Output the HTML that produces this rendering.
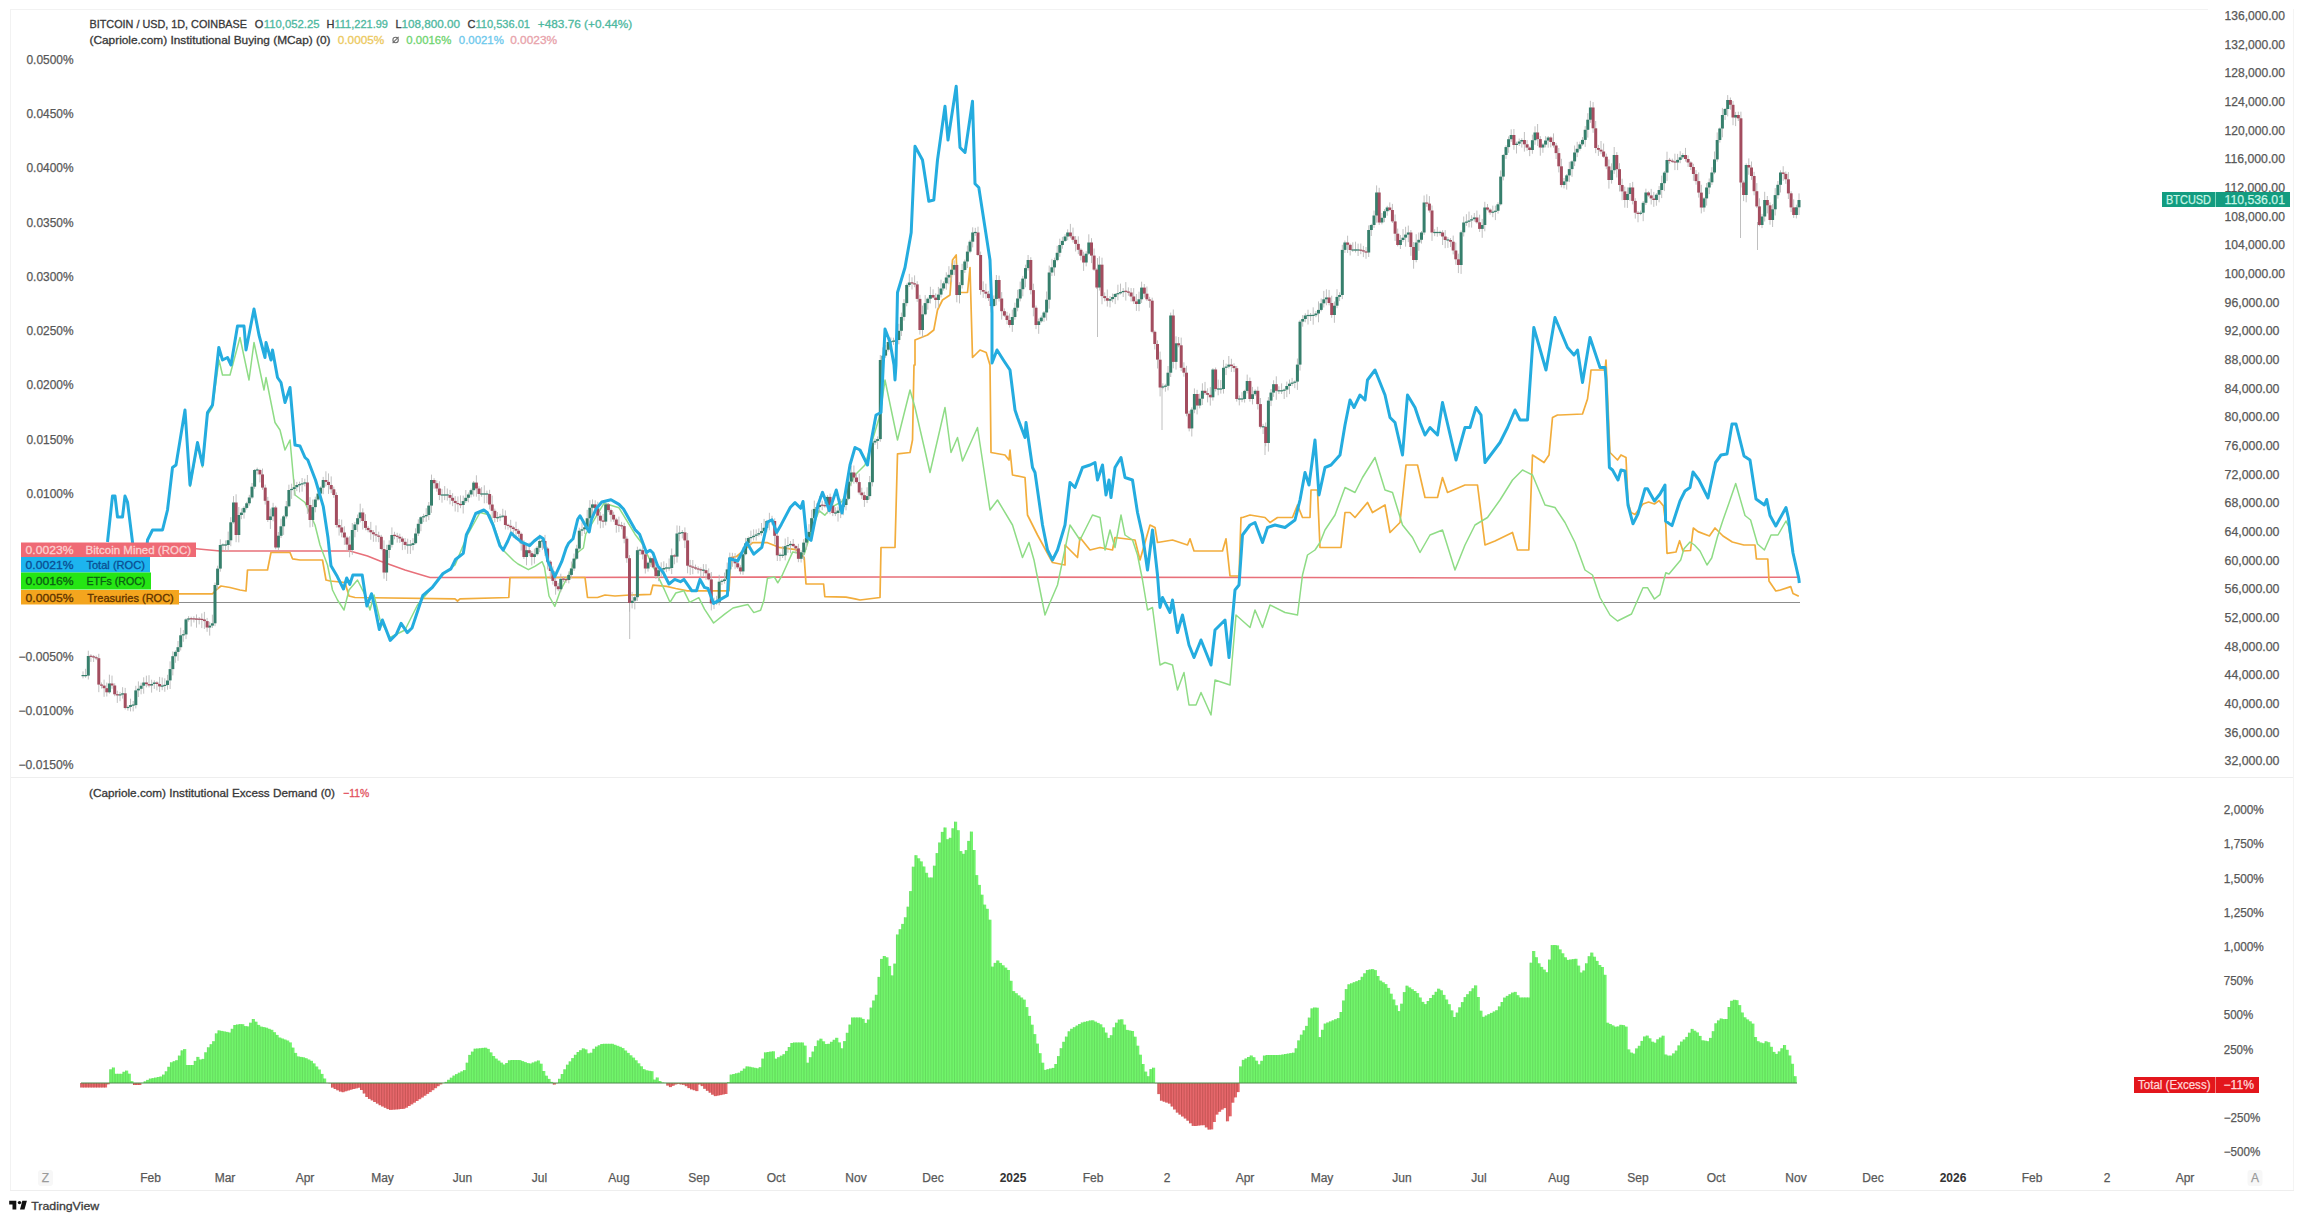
<!DOCTYPE html>
<html><head><meta charset="utf-8">
<style>
html,body{margin:0;padding:0;background:#fff;width:2304px;height:1222px;overflow:hidden}
svg{position:absolute;left:0;top:0;display:block}
text{font-family:"Liberation Sans", sans-serif;}
.ax{font-size:12px;fill:#585858;stroke:#585858;stroke-width:0.25px}
.axb{font-size:12px;fill:#333;font-weight:bold}
.lg{font-size:11px;fill:#383838;stroke:#383838;stroke-width:0.3px}
</style></head><body>
<svg width="2304" height="1222" viewBox="0 0 2304 1222">
<rect x="0" y="0" width="2304" height="1222" fill="#fff"/>
<line x1="10" y1="9.5" x2="2208" y2="9.5" stroke="#f2f2f2" stroke-width="1"/>
<line x1="10" y1="777.5" x2="2294" y2="777.5" stroke="#eeeeee" stroke-width="1"/>
<line x1="10" y1="1190.5" x2="2294" y2="1190.5" stroke="#eeeeee" stroke-width="1"/>
<line x1="10.5" y1="9" x2="10.5" y2="1190" stroke="#f2f2f2" stroke-width="1"/>
<line x1="2293.5" y1="9" x2="2293.5" y2="1190" stroke="#f4f4f4" stroke-width="1"/>
<g fill="#72f46c"><rect x="109.72" y="1069.3" width="2.64" height="13.7"/><rect x="112.36" y="1067.5" width="2.64" height="15.5"/><rect x="115.00" y="1073.8" width="2.64" height="9.2"/><rect x="117.64" y="1073.8" width="2.64" height="9.2"/><rect x="120.28" y="1073.8" width="2.64" height="9.2"/><rect x="122.92" y="1071.8" width="2.64" height="11.2"/><rect x="125.56" y="1070.6" width="2.64" height="12.4"/><rect x="128.20" y="1073.7" width="2.64" height="9.3"/><rect x="130.84" y="1081.2" width="2.64" height="1.8"/><rect x="141.40" y="1082.9" width="2.64" height="0.1"/><rect x="144.04" y="1081.4" width="2.64" height="1.6"/><rect x="146.68" y="1079.9" width="2.64" height="3.1"/><rect x="149.32" y="1078.6" width="2.64" height="4.4"/><rect x="151.96" y="1078.1" width="2.64" height="4.9"/><rect x="154.60" y="1077.6" width="2.64" height="5.4"/><rect x="157.24" y="1077.0" width="2.64" height="6.0"/><rect x="159.88" y="1076.5" width="2.64" height="6.5"/><rect x="162.52" y="1074.6" width="2.64" height="8.4"/><rect x="165.16" y="1071.3" width="2.64" height="11.7"/><rect x="167.80" y="1066.8" width="2.64" height="16.2"/><rect x="170.44" y="1062.3" width="2.64" height="20.7"/><rect x="173.08" y="1061.2" width="2.64" height="21.8"/><rect x="175.72" y="1060.2" width="2.64" height="22.8"/><rect x="178.36" y="1055.6" width="2.64" height="27.4"/><rect x="181.00" y="1050.4" width="2.64" height="32.6"/><rect x="183.64" y="1049.1" width="2.64" height="33.9"/><rect x="186.28" y="1065.0" width="2.64" height="18.0"/><rect x="188.92" y="1065.0" width="2.64" height="18.0"/><rect x="191.56" y="1065.0" width="2.64" height="18.0"/><rect x="194.20" y="1060.9" width="2.64" height="22.1"/><rect x="196.84" y="1056.9" width="2.64" height="26.1"/><rect x="199.48" y="1059.5" width="2.64" height="23.5"/><rect x="202.12" y="1058.9" width="2.64" height="24.1"/><rect x="204.76" y="1052.3" width="2.64" height="30.7"/><rect x="207.40" y="1047.3" width="2.64" height="35.7"/><rect x="210.04" y="1044.2" width="2.64" height="38.8"/><rect x="212.68" y="1041.2" width="2.64" height="41.8"/><rect x="215.32" y="1033.4" width="2.64" height="49.6"/><rect x="217.96" y="1030.4" width="2.64" height="52.6"/><rect x="220.60" y="1030.9" width="2.64" height="52.1"/><rect x="223.24" y="1031.4" width="2.64" height="51.6"/><rect x="225.88" y="1031.9" width="2.64" height="51.1"/><rect x="228.52" y="1032.5" width="2.64" height="50.5"/><rect x="231.16" y="1028.8" width="2.64" height="54.2"/><rect x="233.80" y="1025.0" width="2.64" height="58.0"/><rect x="236.44" y="1024.5" width="2.64" height="58.5"/><rect x="239.08" y="1024.1" width="2.64" height="58.9"/><rect x="241.72" y="1024.2" width="2.64" height="58.8"/><rect x="244.36" y="1026.1" width="2.64" height="56.9"/><rect x="247.00" y="1026.4" width="2.64" height="56.6"/><rect x="249.64" y="1022.7" width="2.64" height="60.3"/><rect x="252.28" y="1019.0" width="2.64" height="64.0"/><rect x="254.92" y="1021.7" width="2.64" height="61.3"/><rect x="257.56" y="1024.9" width="2.64" height="58.1"/><rect x="260.20" y="1026.6" width="2.64" height="56.4"/><rect x="262.84" y="1027.1" width="2.64" height="55.9"/><rect x="265.48" y="1027.7" width="2.64" height="55.3"/><rect x="268.12" y="1028.8" width="2.64" height="54.2"/><rect x="270.76" y="1029.8" width="2.64" height="53.2"/><rect x="273.40" y="1032.2" width="2.64" height="50.8"/><rect x="276.04" y="1034.9" width="2.64" height="48.1"/><rect x="278.68" y="1037.5" width="2.64" height="45.5"/><rect x="281.32" y="1038.5" width="2.64" height="44.5"/><rect x="283.96" y="1039.5" width="2.64" height="43.5"/><rect x="286.60" y="1040.5" width="2.64" height="42.5"/><rect x="289.24" y="1042.4" width="2.64" height="40.6"/><rect x="291.88" y="1047.6" width="2.64" height="35.4"/><rect x="294.52" y="1052.9" width="2.64" height="30.1"/><rect x="297.16" y="1056.4" width="2.64" height="26.6"/><rect x="299.80" y="1056.9" width="2.64" height="26.1"/><rect x="302.44" y="1057.3" width="2.64" height="25.7"/><rect x="305.08" y="1058.2" width="2.64" height="24.8"/><rect x="307.72" y="1059.5" width="2.64" height="23.5"/><rect x="310.36" y="1060.8" width="2.64" height="22.2"/><rect x="313.00" y="1063.4" width="2.64" height="19.6"/><rect x="315.64" y="1066.5" width="2.64" height="16.5"/><rect x="318.28" y="1069.5" width="2.64" height="13.5"/><rect x="320.92" y="1073.9" width="2.64" height="9.1"/><rect x="323.56" y="1078.5" width="2.64" height="4.5"/><rect x="445.00" y="1081.9" width="2.64" height="1.1"/><rect x="447.64" y="1079.8" width="2.64" height="3.2"/><rect x="450.28" y="1077.7" width="2.64" height="5.3"/><rect x="452.92" y="1075.6" width="2.64" height="7.4"/><rect x="455.56" y="1074.1" width="2.64" height="8.9"/><rect x="458.20" y="1072.7" width="2.64" height="10.3"/><rect x="460.84" y="1071.4" width="2.64" height="11.6"/><rect x="463.48" y="1070.1" width="2.64" height="12.9"/><rect x="466.12" y="1062.7" width="2.64" height="20.3"/><rect x="468.76" y="1054.9" width="2.64" height="28.1"/><rect x="471.40" y="1051.6" width="2.64" height="31.4"/><rect x="474.04" y="1048.7" width="2.64" height="34.3"/><rect x="476.68" y="1048.5" width="2.64" height="34.5"/><rect x="479.32" y="1048.2" width="2.64" height="34.8"/><rect x="481.96" y="1047.9" width="2.64" height="35.1"/><rect x="484.60" y="1047.7" width="2.64" height="35.3"/><rect x="487.24" y="1048.9" width="2.64" height="34.1"/><rect x="489.88" y="1052.4" width="2.64" height="30.6"/><rect x="492.52" y="1056.0" width="2.64" height="27.0"/><rect x="495.16" y="1058.6" width="2.64" height="24.4"/><rect x="497.80" y="1060.6" width="2.64" height="22.4"/><rect x="500.44" y="1062.6" width="2.64" height="20.4"/><rect x="503.08" y="1064.5" width="2.64" height="18.5"/><rect x="505.72" y="1063.0" width="2.64" height="20.0"/><rect x="508.36" y="1060.3" width="2.64" height="22.7"/><rect x="511.00" y="1060.0" width="2.64" height="23.0"/><rect x="513.64" y="1060.0" width="2.64" height="23.0"/><rect x="516.28" y="1060.0" width="2.64" height="23.0"/><rect x="518.92" y="1060.1" width="2.64" height="22.9"/><rect x="521.56" y="1061.1" width="2.64" height="21.9"/><rect x="524.20" y="1062.1" width="2.64" height="20.9"/><rect x="526.84" y="1063.1" width="2.64" height="19.9"/><rect x="529.48" y="1063.5" width="2.64" height="19.5"/><rect x="532.12" y="1062.5" width="2.64" height="20.5"/><rect x="534.76" y="1061.5" width="2.64" height="21.5"/><rect x="537.40" y="1060.5" width="2.64" height="22.5"/><rect x="540.04" y="1063.7" width="2.64" height="19.3"/><rect x="542.68" y="1071.0" width="2.64" height="12.0"/><rect x="545.32" y="1075.7" width="2.64" height="7.3"/><rect x="547.96" y="1078.9" width="2.64" height="4.1"/><rect x="550.60" y="1081.9" width="2.64" height="1.1"/><rect x="558.52" y="1078.8" width="2.64" height="4.2"/><rect x="561.16" y="1074.0" width="2.64" height="9.0"/><rect x="563.80" y="1069.3" width="2.64" height="13.7"/><rect x="566.44" y="1064.7" width="2.64" height="18.3"/><rect x="569.08" y="1061.4" width="2.64" height="21.6"/><rect x="571.72" y="1058.1" width="2.64" height="24.9"/><rect x="574.36" y="1054.8" width="2.64" height="28.2"/><rect x="577.00" y="1052.0" width="2.64" height="31.0"/><rect x="579.64" y="1050.2" width="2.64" height="32.8"/><rect x="582.28" y="1048.4" width="2.64" height="34.6"/><rect x="584.92" y="1049.4" width="2.64" height="33.6"/><rect x="587.56" y="1053.3" width="2.64" height="29.7"/><rect x="590.20" y="1052.7" width="2.64" height="30.3"/><rect x="592.84" y="1048.8" width="2.64" height="34.2"/><rect x="595.48" y="1046.6" width="2.64" height="36.4"/><rect x="598.12" y="1045.3" width="2.64" height="37.7"/><rect x="600.76" y="1044.0" width="2.64" height="39.0"/><rect x="603.40" y="1043.8" width="2.64" height="39.2"/><rect x="606.04" y="1043.8" width="2.64" height="39.2"/><rect x="608.68" y="1043.8" width="2.64" height="39.2"/><rect x="611.32" y="1043.8" width="2.64" height="39.2"/><rect x="613.96" y="1044.8" width="2.64" height="38.2"/><rect x="616.60" y="1045.8" width="2.64" height="37.2"/><rect x="619.24" y="1046.8" width="2.64" height="36.2"/><rect x="621.88" y="1048.1" width="2.64" height="34.9"/><rect x="624.52" y="1050.5" width="2.64" height="32.5"/><rect x="627.16" y="1052.9" width="2.64" height="30.1"/><rect x="629.80" y="1055.3" width="2.64" height="27.7"/><rect x="632.44" y="1057.6" width="2.64" height="25.4"/><rect x="635.08" y="1060.3" width="2.64" height="22.7"/><rect x="637.72" y="1063.3" width="2.64" height="19.7"/><rect x="640.36" y="1066.3" width="2.64" height="16.7"/><rect x="643.00" y="1069.2" width="2.64" height="13.8"/><rect x="645.64" y="1070.3" width="2.64" height="12.7"/><rect x="648.28" y="1070.8" width="2.64" height="12.2"/><rect x="650.92" y="1071.2" width="2.64" height="11.8"/><rect x="653.56" y="1079.6" width="2.64" height="3.4"/><rect x="656.20" y="1077.5" width="2.64" height="5.5"/><rect x="658.84" y="1081.0" width="2.64" height="2.0"/><rect x="661.48" y="1082.5" width="2.64" height="0.5"/><rect x="664.12" y="1082.9" width="2.64" height="0.1"/><rect x="727.48" y="1082.2" width="2.64" height="0.8"/><rect x="730.12" y="1074.6" width="2.64" height="8.4"/><rect x="732.76" y="1074.0" width="2.64" height="9.0"/><rect x="735.40" y="1073.3" width="2.64" height="9.7"/><rect x="738.04" y="1072.7" width="2.64" height="10.3"/><rect x="740.68" y="1070.8" width="2.64" height="12.2"/><rect x="743.32" y="1068.6" width="2.64" height="14.4"/><rect x="745.96" y="1066.4" width="2.64" height="16.6"/><rect x="748.60" y="1066.7" width="2.64" height="16.3"/><rect x="751.24" y="1067.3" width="2.64" height="15.7"/><rect x="753.88" y="1067.8" width="2.64" height="15.2"/><rect x="756.52" y="1068.3" width="2.64" height="14.7"/><rect x="759.16" y="1067.2" width="2.64" height="15.8"/><rect x="761.80" y="1058.6" width="2.64" height="24.4"/><rect x="764.44" y="1052.4" width="2.64" height="30.6"/><rect x="767.08" y="1052.0" width="2.64" height="31.0"/><rect x="769.72" y="1051.6" width="2.64" height="31.4"/><rect x="772.36" y="1051.3" width="2.64" height="31.7"/><rect x="775.00" y="1058.7" width="2.64" height="24.3"/><rect x="777.64" y="1057.2" width="2.64" height="25.8"/><rect x="780.28" y="1055.7" width="2.64" height="27.3"/><rect x="782.92" y="1054.2" width="2.64" height="28.8"/><rect x="785.56" y="1050.9" width="2.64" height="32.1"/><rect x="788.20" y="1047.0" width="2.64" height="36.0"/><rect x="790.84" y="1043.0" width="2.64" height="40.0"/><rect x="793.48" y="1042.5" width="2.64" height="40.5"/><rect x="796.12" y="1042.5" width="2.64" height="40.5"/><rect x="798.76" y="1042.5" width="2.64" height="40.5"/><rect x="801.40" y="1042.5" width="2.64" height="40.5"/><rect x="804.04" y="1045.6" width="2.64" height="37.4"/><rect x="806.68" y="1062.7" width="2.64" height="20.3"/><rect x="809.32" y="1057.2" width="2.64" height="25.8"/><rect x="811.96" y="1051.6" width="2.64" height="31.4"/><rect x="814.60" y="1046.1" width="2.64" height="36.9"/><rect x="817.24" y="1040.5" width="2.64" height="42.5"/><rect x="819.88" y="1038.7" width="2.64" height="44.3"/><rect x="822.52" y="1041.3" width="2.64" height="41.7"/><rect x="825.16" y="1044.0" width="2.64" height="39.0"/><rect x="827.80" y="1043.8" width="2.64" height="39.2"/><rect x="830.44" y="1041.8" width="2.64" height="41.2"/><rect x="833.08" y="1039.8" width="2.64" height="43.2"/><rect x="835.72" y="1037.8" width="2.64" height="45.2"/><rect x="838.36" y="1042.4" width="2.64" height="40.6"/><rect x="841.00" y="1048.3" width="2.64" height="34.7"/><rect x="843.64" y="1041.1" width="2.64" height="41.9"/><rect x="846.28" y="1032.8" width="2.64" height="50.2"/><rect x="848.92" y="1024.6" width="2.64" height="58.4"/><rect x="851.56" y="1017.5" width="2.64" height="65.5"/><rect x="854.20" y="1017.5" width="2.64" height="65.5"/><rect x="856.84" y="1017.5" width="2.64" height="65.5"/><rect x="859.48" y="1017.5" width="2.64" height="65.5"/><rect x="862.12" y="1018.9" width="2.64" height="64.1"/><rect x="864.76" y="1022.9" width="2.64" height="60.1"/><rect x="867.40" y="1019.5" width="2.64" height="63.5"/><rect x="870.04" y="1007.6" width="2.64" height="75.4"/><rect x="872.68" y="1000.5" width="2.64" height="82.5"/><rect x="875.32" y="994.8" width="2.64" height="88.2"/><rect x="877.96" y="976.9" width="2.64" height="106.1"/><rect x="880.60" y="958.9" width="2.64" height="124.1"/><rect x="883.24" y="956.0" width="2.64" height="127.0"/><rect x="885.88" y="957.3" width="2.64" height="125.7"/><rect x="888.52" y="965.9" width="2.64" height="117.1"/><rect x="891.16" y="975.4" width="2.64" height="107.6"/><rect x="893.80" y="963.6" width="2.64" height="119.4"/><rect x="896.44" y="934.5" width="2.64" height="148.5"/><rect x="899.08" y="929.2" width="2.64" height="153.8"/><rect x="901.72" y="923.9" width="2.64" height="159.1"/><rect x="904.36" y="917.3" width="2.64" height="165.7"/><rect x="907.00" y="906.7" width="2.64" height="176.3"/><rect x="909.64" y="891.1" width="2.64" height="191.9"/><rect x="912.28" y="866.7" width="2.64" height="216.3"/><rect x="914.92" y="855.2" width="2.64" height="227.8"/><rect x="917.56" y="858.3" width="2.64" height="224.7"/><rect x="920.20" y="861.4" width="2.64" height="221.6"/><rect x="922.84" y="866.5" width="2.64" height="216.5"/><rect x="925.48" y="872.8" width="2.64" height="210.2"/><rect x="928.12" y="877.5" width="2.64" height="205.5"/><rect x="930.76" y="877.5" width="2.64" height="205.5"/><rect x="933.40" y="865.7" width="2.64" height="217.3"/><rect x="936.04" y="853.1" width="2.64" height="229.9"/><rect x="938.68" y="842.5" width="2.64" height="240.5"/><rect x="941.32" y="831.9" width="2.64" height="251.1"/><rect x="943.96" y="827.5" width="2.64" height="255.5"/><rect x="946.60" y="839.2" width="2.64" height="243.8"/><rect x="949.24" y="837.8" width="2.64" height="245.2"/><rect x="951.88" y="828.3" width="2.64" height="254.7"/><rect x="954.52" y="821.7" width="2.64" height="261.3"/><rect x="957.16" y="830.2" width="2.64" height="252.8"/><rect x="959.80" y="851.1" width="2.64" height="231.9"/><rect x="962.44" y="853.8" width="2.64" height="229.2"/><rect x="965.08" y="850.1" width="2.64" height="232.9"/><rect x="967.72" y="840.9" width="2.64" height="242.1"/><rect x="970.36" y="831.6" width="2.64" height="251.4"/><rect x="973.00" y="850.0" width="2.64" height="233.0"/><rect x="975.64" y="875.1" width="2.64" height="207.9"/><rect x="978.28" y="884.9" width="2.64" height="198.1"/><rect x="980.92" y="894.7" width="2.64" height="188.3"/><rect x="983.56" y="904.6" width="2.64" height="178.4"/><rect x="986.20" y="908.8" width="2.64" height="174.2"/><rect x="988.84" y="919.7" width="2.64" height="163.3"/><rect x="991.48" y="966.6" width="2.64" height="116.4"/><rect x="994.12" y="962.9" width="2.64" height="120.1"/><rect x="996.76" y="960.5" width="2.64" height="122.5"/><rect x="999.40" y="962.9" width="2.64" height="120.1"/><rect x="1002.04" y="965.3" width="2.64" height="117.7"/><rect x="1004.68" y="967.6" width="2.64" height="115.4"/><rect x="1007.32" y="970.0" width="2.64" height="113.0"/><rect x="1009.96" y="980.8" width="2.64" height="102.2"/><rect x="1012.60" y="991.1" width="2.64" height="91.9"/><rect x="1015.24" y="993.2" width="2.64" height="89.8"/><rect x="1017.88" y="995.4" width="2.64" height="87.6"/><rect x="1020.52" y="997.5" width="2.64" height="85.5"/><rect x="1023.16" y="999.6" width="2.64" height="83.4"/><rect x="1025.80" y="1007.1" width="2.64" height="75.9"/><rect x="1028.44" y="1015.9" width="2.64" height="67.1"/><rect x="1031.08" y="1024.7" width="2.64" height="58.3"/><rect x="1033.72" y="1034.1" width="2.64" height="48.9"/><rect x="1036.36" y="1043.6" width="2.64" height="39.4"/><rect x="1039.00" y="1053.2" width="2.64" height="29.8"/><rect x="1041.64" y="1062.7" width="2.64" height="20.3"/><rect x="1044.28" y="1069.9" width="2.64" height="13.1"/><rect x="1046.92" y="1069.2" width="2.64" height="13.8"/><rect x="1049.56" y="1068.5" width="2.64" height="14.5"/><rect x="1052.20" y="1067.9" width="2.64" height="15.1"/><rect x="1054.84" y="1064.0" width="2.64" height="19.0"/><rect x="1057.48" y="1056.1" width="2.64" height="26.9"/><rect x="1060.12" y="1048.2" width="2.64" height="34.8"/><rect x="1062.76" y="1041.8" width="2.64" height="41.2"/><rect x="1065.40" y="1036.6" width="2.64" height="46.4"/><rect x="1068.04" y="1031.3" width="2.64" height="51.7"/><rect x="1070.68" y="1028.8" width="2.64" height="54.2"/><rect x="1073.32" y="1027.2" width="2.64" height="55.8"/><rect x="1075.96" y="1025.6" width="2.64" height="57.4"/><rect x="1078.60" y="1024.0" width="2.64" height="59.0"/><rect x="1081.24" y="1022.5" width="2.64" height="60.5"/><rect x="1083.88" y="1021.8" width="2.64" height="61.2"/><rect x="1086.52" y="1021.2" width="2.64" height="61.8"/><rect x="1089.16" y="1020.5" width="2.64" height="62.5"/><rect x="1091.80" y="1020.3" width="2.64" height="62.7"/><rect x="1094.44" y="1021.6" width="2.64" height="61.4"/><rect x="1097.08" y="1022.9" width="2.64" height="60.1"/><rect x="1099.72" y="1024.3" width="2.64" height="58.7"/><rect x="1102.36" y="1027.4" width="2.64" height="55.6"/><rect x="1105.00" y="1032.6" width="2.64" height="50.4"/><rect x="1107.64" y="1037.9" width="2.64" height="45.1"/><rect x="1110.28" y="1035.2" width="2.64" height="47.8"/><rect x="1112.92" y="1027.3" width="2.64" height="55.7"/><rect x="1115.56" y="1022.7" width="2.64" height="60.3"/><rect x="1118.20" y="1019.6" width="2.64" height="63.4"/><rect x="1120.84" y="1019.3" width="2.64" height="63.7"/><rect x="1123.48" y="1024.6" width="2.64" height="58.4"/><rect x="1126.12" y="1029.9" width="2.64" height="53.1"/><rect x="1128.76" y="1030.5" width="2.64" height="52.5"/><rect x="1131.40" y="1031.0" width="2.64" height="52.0"/><rect x="1134.04" y="1036.7" width="2.64" height="46.3"/><rect x="1136.68" y="1045.7" width="2.64" height="37.3"/><rect x="1139.32" y="1054.7" width="2.64" height="28.3"/><rect x="1141.96" y="1064.0" width="2.64" height="19.0"/><rect x="1144.60" y="1071.6" width="2.64" height="11.4"/><rect x="1147.24" y="1076.2" width="2.64" height="6.8"/><rect x="1149.88" y="1069.1" width="2.64" height="13.9"/><rect x="1152.52" y="1067.7" width="2.64" height="15.3"/><rect x="1239.64" y="1066.4" width="2.64" height="16.6"/><rect x="1242.28" y="1059.9" width="2.64" height="23.1"/><rect x="1244.92" y="1058.5" width="2.64" height="24.5"/><rect x="1247.56" y="1057.0" width="2.64" height="26.0"/><rect x="1250.20" y="1055.5" width="2.64" height="27.5"/><rect x="1252.84" y="1057.2" width="2.64" height="25.8"/><rect x="1255.48" y="1060.7" width="2.64" height="22.3"/><rect x="1258.12" y="1064.3" width="2.64" height="18.7"/><rect x="1260.76" y="1060.8" width="2.64" height="22.2"/><rect x="1263.40" y="1055.6" width="2.64" height="27.4"/><rect x="1266.04" y="1055.0" width="2.64" height="28.0"/><rect x="1268.68" y="1055.0" width="2.64" height="28.0"/><rect x="1271.32" y="1055.0" width="2.64" height="28.0"/><rect x="1273.96" y="1055.0" width="2.64" height="28.0"/><rect x="1276.60" y="1055.0" width="2.64" height="28.0"/><rect x="1279.24" y="1054.9" width="2.64" height="28.1"/><rect x="1281.88" y="1054.5" width="2.64" height="28.5"/><rect x="1284.52" y="1054.0" width="2.64" height="29.0"/><rect x="1287.16" y="1053.6" width="2.64" height="29.4"/><rect x="1289.80" y="1053.1" width="2.64" height="29.9"/><rect x="1292.44" y="1052.7" width="2.64" height="30.3"/><rect x="1295.08" y="1048.3" width="2.64" height="34.7"/><rect x="1297.72" y="1040.4" width="2.64" height="42.6"/><rect x="1300.36" y="1034.7" width="2.64" height="48.3"/><rect x="1303.00" y="1030.3" width="2.64" height="52.7"/><rect x="1305.64" y="1025.9" width="2.64" height="57.1"/><rect x="1308.28" y="1017.6" width="2.64" height="65.4"/><rect x="1310.92" y="1008.4" width="2.64" height="74.6"/><rect x="1313.56" y="1007.5" width="2.64" height="75.5"/><rect x="1316.20" y="1007.7" width="2.64" height="75.3"/><rect x="1318.84" y="1037.1" width="2.64" height="45.9"/><rect x="1321.48" y="1029.8" width="2.64" height="53.2"/><rect x="1324.12" y="1023.6" width="2.64" height="59.4"/><rect x="1326.76" y="1022.5" width="2.64" height="60.5"/><rect x="1329.40" y="1021.4" width="2.64" height="61.6"/><rect x="1332.04" y="1020.3" width="2.64" height="62.7"/><rect x="1334.68" y="1019.2" width="2.64" height="63.8"/><rect x="1337.32" y="1018.1" width="2.64" height="64.9"/><rect x="1339.96" y="1012.0" width="2.64" height="71.0"/><rect x="1342.60" y="1000.5" width="2.64" height="82.5"/><rect x="1345.24" y="989.1" width="2.64" height="93.9"/><rect x="1347.88" y="984.3" width="2.64" height="98.7"/><rect x="1350.52" y="983.3" width="2.64" height="99.7"/><rect x="1353.16" y="982.2" width="2.64" height="100.8"/><rect x="1355.80" y="981.2" width="2.64" height="101.8"/><rect x="1358.44" y="980.1" width="2.64" height="102.9"/><rect x="1361.08" y="976.8" width="2.64" height="106.2"/><rect x="1363.72" y="973.3" width="2.64" height="109.7"/><rect x="1366.36" y="970.0" width="2.64" height="113.0"/><rect x="1369.00" y="969.5" width="2.64" height="113.5"/><rect x="1371.64" y="969.1" width="2.64" height="113.9"/><rect x="1374.28" y="970.1" width="2.64" height="112.9"/><rect x="1376.92" y="976.0" width="2.64" height="107.0"/><rect x="1379.56" y="980.6" width="2.64" height="102.4"/><rect x="1382.20" y="982.3" width="2.64" height="100.7"/><rect x="1384.84" y="984.1" width="2.64" height="98.9"/><rect x="1387.48" y="987.9" width="2.64" height="95.1"/><rect x="1390.12" y="993.7" width="2.64" height="89.3"/><rect x="1392.76" y="999.5" width="2.64" height="83.5"/><rect x="1395.40" y="1005.3" width="2.64" height="77.7"/><rect x="1398.04" y="1011.1" width="2.64" height="71.9"/><rect x="1400.68" y="1003.7" width="2.64" height="79.3"/><rect x="1403.32" y="992.1" width="2.64" height="90.9"/><rect x="1405.96" y="985.7" width="2.64" height="97.3"/><rect x="1408.60" y="987.4" width="2.64" height="95.6"/><rect x="1411.24" y="989.2" width="2.64" height="93.8"/><rect x="1413.88" y="991.0" width="2.64" height="92.0"/><rect x="1416.52" y="993.1" width="2.64" height="89.9"/><rect x="1419.16" y="997.5" width="2.64" height="85.5"/><rect x="1421.80" y="1001.9" width="2.64" height="81.1"/><rect x="1424.44" y="1004.1" width="2.64" height="78.9"/><rect x="1427.08" y="1001.0" width="2.64" height="82.0"/><rect x="1429.72" y="998.0" width="2.64" height="85.0"/><rect x="1432.36" y="994.9" width="2.64" height="88.1"/><rect x="1435.00" y="991.8" width="2.64" height="91.2"/><rect x="1437.64" y="988.7" width="2.64" height="94.3"/><rect x="1440.28" y="990.3" width="2.64" height="92.7"/><rect x="1442.92" y="994.9" width="2.64" height="88.1"/><rect x="1445.56" y="999.5" width="2.64" height="83.5"/><rect x="1448.20" y="1004.2" width="2.64" height="78.8"/><rect x="1450.84" y="1010.4" width="2.64" height="72.6"/><rect x="1453.48" y="1017.0" width="2.64" height="66.0"/><rect x="1456.12" y="1012.6" width="2.64" height="70.4"/><rect x="1458.76" y="1007.3" width="2.64" height="75.7"/><rect x="1461.40" y="1002.1" width="2.64" height="80.9"/><rect x="1464.04" y="997.1" width="2.64" height="85.9"/><rect x="1466.68" y="994.2" width="2.64" height="88.8"/><rect x="1469.32" y="991.2" width="2.64" height="91.8"/><rect x="1471.96" y="988.3" width="2.64" height="94.7"/><rect x="1474.60" y="985.4" width="2.64" height="97.6"/><rect x="1477.24" y="997.0" width="2.64" height="86.0"/><rect x="1479.88" y="1010.7" width="2.64" height="72.3"/><rect x="1482.52" y="1016.8" width="2.64" height="66.2"/><rect x="1485.16" y="1015.5" width="2.64" height="67.5"/><rect x="1487.80" y="1014.2" width="2.64" height="68.8"/><rect x="1490.44" y="1012.9" width="2.64" height="70.1"/><rect x="1493.08" y="1011.5" width="2.64" height="71.5"/><rect x="1495.72" y="1010.2" width="2.64" height="72.8"/><rect x="1498.36" y="1006.4" width="2.64" height="76.6"/><rect x="1501.00" y="1002.0" width="2.64" height="81.0"/><rect x="1503.64" y="997.6" width="2.64" height="85.4"/><rect x="1506.28" y="995.9" width="2.64" height="87.1"/><rect x="1508.92" y="994.2" width="2.64" height="88.8"/><rect x="1511.56" y="992.6" width="2.64" height="90.4"/><rect x="1514.20" y="991.9" width="2.64" height="91.1"/><rect x="1516.84" y="995.2" width="2.64" height="87.8"/><rect x="1519.48" y="997.5" width="2.64" height="85.5"/><rect x="1522.12" y="997.5" width="2.64" height="85.5"/><rect x="1524.76" y="997.5" width="2.64" height="85.5"/><rect x="1527.40" y="997.5" width="2.64" height="85.5"/><rect x="1530.04" y="962.7" width="2.64" height="120.3"/><rect x="1532.68" y="951.0" width="2.64" height="132.0"/><rect x="1535.32" y="957.2" width="2.64" height="125.8"/><rect x="1537.96" y="963.3" width="2.64" height="119.7"/><rect x="1540.60" y="966.9" width="2.64" height="116.1"/><rect x="1543.24" y="969.6" width="2.64" height="113.4"/><rect x="1545.88" y="972.2" width="2.64" height="110.8"/><rect x="1548.52" y="959.6" width="2.64" height="123.4"/><rect x="1551.16" y="945.1" width="2.64" height="137.9"/><rect x="1553.80" y="945.0" width="2.64" height="138.0"/><rect x="1556.44" y="945.4" width="2.64" height="137.6"/><rect x="1559.08" y="949.4" width="2.64" height="133.6"/><rect x="1561.72" y="953.3" width="2.64" height="129.7"/><rect x="1564.36" y="957.3" width="2.64" height="125.7"/><rect x="1567.00" y="959.9" width="2.64" height="123.1"/><rect x="1569.64" y="959.5" width="2.64" height="123.5"/><rect x="1572.28" y="959.1" width="2.64" height="123.9"/><rect x="1574.92" y="958.8" width="2.64" height="124.2"/><rect x="1577.56" y="965.6" width="2.64" height="117.4"/><rect x="1580.20" y="972.5" width="2.64" height="110.5"/><rect x="1582.84" y="970.5" width="2.64" height="112.5"/><rect x="1585.48" y="963.3" width="2.64" height="119.7"/><rect x="1588.12" y="956.2" width="2.64" height="126.8"/><rect x="1590.76" y="952.6" width="2.64" height="130.4"/><rect x="1593.40" y="956.7" width="2.64" height="126.3"/><rect x="1596.04" y="960.9" width="2.64" height="122.1"/><rect x="1598.68" y="965.0" width="2.64" height="118.0"/><rect x="1601.32" y="967.0" width="2.64" height="116.0"/><rect x="1603.96" y="974.8" width="2.64" height="108.2"/><rect x="1606.60" y="1022.7" width="2.64" height="60.3"/><rect x="1609.24" y="1024.0" width="2.64" height="59.0"/><rect x="1611.88" y="1025.4" width="2.64" height="57.6"/><rect x="1614.52" y="1026.7" width="2.64" height="56.3"/><rect x="1617.16" y="1026.4" width="2.64" height="56.6"/><rect x="1619.80" y="1024.8" width="2.64" height="58.2"/><rect x="1622.44" y="1025.1" width="2.64" height="57.9"/><rect x="1625.08" y="1026.6" width="2.64" height="56.4"/><rect x="1627.72" y="1049.4" width="2.64" height="33.6"/><rect x="1630.36" y="1052.6" width="2.64" height="30.4"/><rect x="1633.00" y="1053.6" width="2.64" height="29.4"/><rect x="1635.64" y="1048.4" width="2.64" height="34.6"/><rect x="1638.28" y="1045.8" width="2.64" height="37.2"/><rect x="1640.92" y="1040.9" width="2.64" height="42.1"/><rect x="1643.56" y="1036.5" width="2.64" height="46.5"/><rect x="1646.20" y="1035.6" width="2.64" height="47.4"/><rect x="1648.84" y="1038.3" width="2.64" height="44.7"/><rect x="1651.48" y="1041.7" width="2.64" height="41.3"/><rect x="1654.12" y="1042.7" width="2.64" height="40.3"/><rect x="1656.76" y="1039.3" width="2.64" height="43.7"/><rect x="1659.40" y="1037.5" width="2.64" height="45.5"/><rect x="1662.04" y="1035.7" width="2.64" height="47.3"/><rect x="1664.68" y="1054.5" width="2.64" height="28.5"/><rect x="1667.32" y="1055.6" width="2.64" height="27.4"/><rect x="1669.96" y="1055.6" width="2.64" height="27.4"/><rect x="1672.60" y="1053.4" width="2.64" height="29.6"/><rect x="1675.24" y="1050.6" width="2.64" height="32.4"/><rect x="1677.88" y="1045.4" width="2.64" height="37.6"/><rect x="1680.52" y="1041.6" width="2.64" height="41.4"/><rect x="1683.16" y="1039.5" width="2.64" height="43.5"/><rect x="1685.80" y="1036.9" width="2.64" height="46.1"/><rect x="1688.44" y="1032.7" width="2.64" height="50.3"/><rect x="1691.08" y="1028.9" width="2.64" height="54.1"/><rect x="1693.72" y="1030.7" width="2.64" height="52.3"/><rect x="1696.36" y="1032.4" width="2.64" height="50.6"/><rect x="1699.00" y="1035.9" width="2.64" height="47.1"/><rect x="1701.64" y="1040.3" width="2.64" height="42.7"/><rect x="1704.28" y="1040.7" width="2.64" height="42.3"/><rect x="1706.92" y="1041.2" width="2.64" height="41.8"/><rect x="1709.56" y="1037.9" width="2.64" height="45.1"/><rect x="1712.20" y="1031.2" width="2.64" height="51.8"/><rect x="1714.84" y="1023.3" width="2.64" height="59.7"/><rect x="1717.48" y="1020.4" width="2.64" height="62.6"/><rect x="1720.12" y="1018.5" width="2.64" height="64.5"/><rect x="1722.76" y="1019.1" width="2.64" height="63.9"/><rect x="1725.40" y="1019.0" width="2.64" height="64.0"/><rect x="1728.04" y="1007.0" width="2.64" height="76.0"/><rect x="1730.68" y="1000.8" width="2.64" height="82.2"/><rect x="1733.32" y="999.8" width="2.64" height="83.2"/><rect x="1735.96" y="1000.2" width="2.64" height="82.8"/><rect x="1738.60" y="1005.1" width="2.64" height="77.9"/><rect x="1741.24" y="1012.5" width="2.64" height="70.5"/><rect x="1743.88" y="1017.3" width="2.64" height="65.7"/><rect x="1746.52" y="1019.4" width="2.64" height="63.6"/><rect x="1749.16" y="1021.3" width="2.64" height="61.7"/><rect x="1751.80" y="1023.6" width="2.64" height="59.4"/><rect x="1754.44" y="1037.0" width="2.64" height="46.0"/><rect x="1757.08" y="1041.2" width="2.64" height="41.8"/><rect x="1759.72" y="1042.5" width="2.64" height="40.5"/><rect x="1762.36" y="1043.2" width="2.64" height="39.8"/><rect x="1765.00" y="1041.3" width="2.64" height="41.7"/><rect x="1767.64" y="1042.2" width="2.64" height="40.8"/><rect x="1770.28" y="1046.8" width="2.64" height="36.2"/><rect x="1772.92" y="1051.9" width="2.64" height="31.1"/><rect x="1775.56" y="1053.9" width="2.64" height="29.1"/><rect x="1778.20" y="1051.4" width="2.64" height="31.6"/><rect x="1780.84" y="1048.3" width="2.64" height="34.7"/><rect x="1783.48" y="1045.0" width="2.64" height="38.0"/><rect x="1786.12" y="1049.8" width="2.64" height="33.2"/><rect x="1788.76" y="1055.5" width="2.64" height="27.5"/><rect x="1791.40" y="1063.8" width="2.64" height="19.2"/><rect x="1794.04" y="1076.2" width="2.64" height="6.8"/></g>
<g fill="#e6686c"><rect x="80.68" y="1083" width="2.64" height="4.5"/><rect x="83.32" y="1083" width="2.64" height="4.5"/><rect x="85.96" y="1083" width="2.64" height="4.5"/><rect x="88.60" y="1083" width="2.64" height="4.5"/><rect x="91.24" y="1083" width="2.64" height="4.5"/><rect x="93.88" y="1083" width="2.64" height="4.5"/><rect x="96.52" y="1083" width="2.64" height="4.5"/><rect x="99.16" y="1083" width="2.64" height="4.5"/><rect x="101.80" y="1083" width="2.64" height="4.5"/><rect x="104.44" y="1083" width="2.64" height="4.5"/><rect x="107.08" y="1083" width="2.64" height="1.3"/><rect x="133.48" y="1083" width="2.64" height="2.0"/><rect x="136.12" y="1083" width="2.64" height="2.0"/><rect x="138.76" y="1083" width="2.64" height="2.0"/><rect x="328.84" y="1083" width="2.64" height="0.3"/><rect x="331.48" y="1083" width="2.64" height="4.6"/><rect x="334.12" y="1083" width="2.64" height="6.0"/><rect x="336.76" y="1083" width="2.64" height="7.3"/><rect x="339.40" y="1083" width="2.64" height="8.6"/><rect x="342.04" y="1083" width="2.64" height="9.2"/><rect x="344.68" y="1083" width="2.64" height="8.3"/><rect x="347.32" y="1083" width="2.64" height="7.5"/><rect x="349.96" y="1083" width="2.64" height="6.7"/><rect x="352.60" y="1083" width="2.64" height="6.0"/><rect x="355.24" y="1083" width="2.64" height="5.4"/><rect x="357.88" y="1083" width="2.64" height="4.7"/><rect x="360.52" y="1083" width="2.64" height="7.0"/><rect x="363.16" y="1083" width="2.64" height="10.5"/><rect x="365.80" y="1083" width="2.64" height="14.0"/><rect x="368.44" y="1083" width="2.64" height="15.9"/><rect x="371.08" y="1083" width="2.64" height="17.4"/><rect x="373.72" y="1083" width="2.64" height="19.0"/><rect x="376.36" y="1083" width="2.64" height="20.6"/><rect x="379.00" y="1083" width="2.64" height="22.2"/><rect x="381.64" y="1083" width="2.64" height="23.5"/><rect x="384.28" y="1083" width="2.64" height="24.8"/><rect x="386.92" y="1083" width="2.64" height="26.1"/><rect x="389.56" y="1083" width="2.64" height="26.9"/><rect x="392.20" y="1083" width="2.64" height="26.7"/><rect x="394.84" y="1083" width="2.64" height="26.5"/><rect x="397.48" y="1083" width="2.64" height="26.3"/><rect x="400.12" y="1083" width="2.64" height="26.0"/><rect x="402.76" y="1083" width="2.64" height="25.8"/><rect x="405.40" y="1083" width="2.64" height="24.7"/><rect x="408.04" y="1083" width="2.64" height="23.0"/><rect x="410.68" y="1083" width="2.64" height="21.4"/><rect x="413.32" y="1083" width="2.64" height="19.7"/><rect x="415.96" y="1083" width="2.64" height="18.0"/><rect x="418.60" y="1083" width="2.64" height="16.2"/><rect x="421.24" y="1083" width="2.64" height="14.5"/><rect x="423.88" y="1083" width="2.64" height="12.7"/><rect x="426.52" y="1083" width="2.64" height="10.9"/><rect x="429.16" y="1083" width="2.64" height="9.1"/><rect x="431.80" y="1083" width="2.64" height="7.2"/><rect x="434.44" y="1083" width="2.64" height="5.2"/><rect x="437.08" y="1083" width="2.64" height="3.2"/><rect x="439.72" y="1083" width="2.64" height="1.4"/><rect x="442.36" y="1083" width="2.64" height="0.0"/><rect x="553.24" y="1083" width="2.64" height="1.6"/><rect x="555.88" y="1083" width="2.64" height="0.2"/><rect x="666.76" y="1083" width="2.64" height="2.6"/><rect x="669.40" y="1083" width="2.64" height="4.1"/><rect x="672.04" y="1083" width="2.64" height="2.8"/><rect x="674.68" y="1083" width="2.64" height="1.5"/><rect x="677.32" y="1083" width="2.64" height="0.9"/><rect x="679.96" y="1083" width="2.64" height="1.4"/><rect x="682.60" y="1083" width="2.64" height="1.8"/><rect x="685.24" y="1083" width="2.64" height="3.2"/><rect x="687.88" y="1083" width="2.64" height="5.1"/><rect x="690.52" y="1083" width="2.64" height="6.4"/><rect x="693.16" y="1083" width="2.64" height="7.2"/><rect x="695.80" y="1083" width="2.64" height="8.1"/><rect x="698.44" y="1083" width="2.64" height="1.5"/><rect x="701.08" y="1083" width="2.64" height="3.1"/><rect x="703.72" y="1083" width="2.64" height="5.8"/><rect x="706.36" y="1083" width="2.64" height="7.8"/><rect x="709.00" y="1083" width="2.64" height="9.7"/><rect x="711.64" y="1083" width="2.64" height="11.7"/><rect x="714.28" y="1083" width="2.64" height="13.1"/><rect x="716.92" y="1083" width="2.64" height="12.6"/><rect x="719.56" y="1083" width="2.64" height="12.1"/><rect x="722.20" y="1083" width="2.64" height="11.5"/><rect x="724.84" y="1083" width="2.64" height="11.0"/><rect x="1155.16" y="1083" width="2.64" height="0.2"/><rect x="1157.80" y="1083" width="2.64" height="11.1"/><rect x="1160.44" y="1083" width="2.64" height="17.7"/><rect x="1163.08" y="1083" width="2.64" height="18.7"/><rect x="1165.72" y="1083" width="2.64" height="19.6"/><rect x="1168.36" y="1083" width="2.64" height="20.6"/><rect x="1171.00" y="1083" width="2.64" height="23.5"/><rect x="1173.64" y="1083" width="2.64" height="26.5"/><rect x="1176.28" y="1083" width="2.64" height="29.6"/><rect x="1178.92" y="1083" width="2.64" height="31.6"/><rect x="1181.56" y="1083" width="2.64" height="33.5"/><rect x="1184.20" y="1083" width="2.64" height="35.5"/><rect x="1186.84" y="1083" width="2.64" height="37.7"/><rect x="1189.48" y="1083" width="2.64" height="40.3"/><rect x="1192.12" y="1083" width="2.64" height="42.9"/><rect x="1194.76" y="1083" width="2.64" height="43.0"/><rect x="1197.40" y="1083" width="2.64" height="42.6"/><rect x="1200.04" y="1083" width="2.64" height="42.3"/><rect x="1202.68" y="1083" width="2.64" height="42.2"/><rect x="1205.32" y="1083" width="2.64" height="44.4"/><rect x="1207.96" y="1083" width="2.64" height="46.6"/><rect x="1210.60" y="1083" width="2.64" height="46.4"/><rect x="1213.24" y="1083" width="2.64" height="39.0"/><rect x="1215.88" y="1083" width="2.64" height="31.6"/><rect x="1218.52" y="1083" width="2.64" height="28.8"/><rect x="1221.16" y="1083" width="2.64" height="26.6"/><rect x="1223.80" y="1083" width="2.64" height="25.1"/><rect x="1226.44" y="1083" width="2.64" height="38.3"/><rect x="1229.08" y="1083" width="2.64" height="33.3"/><rect x="1231.72" y="1083" width="2.64" height="19.7"/><rect x="1234.36" y="1083" width="2.64" height="14.4"/><rect x="1237.00" y="1083" width="2.64" height="9.1"/></g>
<path d="M109.72 1069.3V1083M112.36 1067.5V1083M115.00 1073.8V1083M117.64 1073.8V1083M120.28 1073.8V1083M122.92 1071.8V1083M125.56 1070.6V1083M128.20 1073.7V1083M130.84 1081.2V1083M141.40 1082.9V1083M144.04 1081.4V1083M146.68 1079.9V1083M149.32 1078.6V1083M151.96 1078.1V1083M154.60 1077.6V1083M157.24 1077.0V1083M159.88 1076.5V1083M162.52 1074.6V1083M165.16 1071.3V1083M167.80 1066.8V1083M170.44 1062.3V1083M173.08 1061.2V1083M175.72 1060.2V1083M178.36 1055.6V1083M181.00 1050.4V1083M183.64 1049.1V1083M186.28 1065.0V1083M188.92 1065.0V1083M191.56 1065.0V1083M194.20 1060.9V1083M196.84 1056.9V1083M199.48 1059.5V1083M202.12 1058.9V1083M204.76 1052.3V1083M207.40 1047.3V1083M210.04 1044.2V1083M212.68 1041.2V1083M215.32 1033.4V1083M217.96 1030.4V1083M220.60 1030.9V1083M223.24 1031.4V1083M225.88 1031.9V1083M228.52 1032.5V1083M231.16 1028.8V1083M233.80 1025.0V1083M236.44 1024.5V1083M239.08 1024.1V1083M241.72 1024.2V1083M244.36 1026.1V1083M247.00 1026.4V1083M249.64 1022.7V1083M252.28 1019.0V1083M254.92 1021.7V1083M257.56 1024.9V1083M260.20 1026.6V1083M262.84 1027.1V1083M265.48 1027.7V1083M268.12 1028.8V1083M270.76 1029.8V1083M273.40 1032.2V1083M276.04 1034.9V1083M278.68 1037.5V1083M281.32 1038.5V1083M283.96 1039.5V1083M286.60 1040.5V1083M289.24 1042.4V1083M291.88 1047.6V1083M294.52 1052.9V1083M297.16 1056.4V1083M299.80 1056.9V1083M302.44 1057.3V1083M305.08 1058.2V1083M307.72 1059.5V1083M310.36 1060.8V1083M313.00 1063.4V1083M315.64 1066.5V1083M318.28 1069.5V1083M320.92 1073.9V1083M323.56 1078.5V1083M445.00 1081.9V1083M447.64 1079.8V1083M450.28 1077.7V1083M452.92 1075.6V1083M455.56 1074.1V1083M458.20 1072.7V1083M460.84 1071.4V1083M463.48 1070.1V1083M466.12 1062.7V1083M468.76 1054.9V1083M471.40 1051.6V1083M474.04 1048.7V1083M476.68 1048.5V1083M479.32 1048.2V1083M481.96 1047.9V1083M484.60 1047.7V1083M487.24 1048.9V1083M489.88 1052.4V1083M492.52 1056.0V1083M495.16 1058.6V1083M497.80 1060.6V1083M500.44 1062.6V1083M503.08 1064.5V1083M505.72 1063.0V1083M508.36 1060.3V1083M511.00 1060.0V1083M513.64 1060.0V1083M516.28 1060.0V1083M518.92 1060.1V1083M521.56 1061.1V1083M524.20 1062.1V1083M526.84 1063.1V1083M529.48 1063.5V1083M532.12 1062.5V1083M534.76 1061.5V1083M537.40 1060.5V1083M540.04 1063.7V1083M542.68 1071.0V1083M545.32 1075.7V1083M547.96 1078.9V1083M550.60 1081.9V1083M558.52 1078.8V1083M561.16 1074.0V1083M563.80 1069.3V1083M566.44 1064.7V1083M569.08 1061.4V1083M571.72 1058.1V1083M574.36 1054.8V1083M577.00 1052.0V1083M579.64 1050.2V1083M582.28 1048.4V1083M584.92 1049.4V1083M587.56 1053.3V1083M590.20 1052.7V1083M592.84 1048.8V1083M595.48 1046.6V1083M598.12 1045.3V1083M600.76 1044.0V1083M603.40 1043.8V1083M606.04 1043.8V1083M608.68 1043.8V1083M611.32 1043.8V1083M613.96 1044.8V1083M616.60 1045.8V1083M619.24 1046.8V1083M621.88 1048.1V1083M624.52 1050.5V1083M627.16 1052.9V1083M629.80 1055.3V1083M632.44 1057.6V1083M635.08 1060.3V1083M637.72 1063.3V1083M640.36 1066.3V1083M643.00 1069.2V1083M645.64 1070.3V1083M648.28 1070.8V1083M650.92 1071.2V1083M653.56 1079.6V1083M656.20 1077.5V1083M658.84 1081.0V1083M661.48 1082.5V1083M664.12 1082.9V1083M727.48 1082.2V1083M730.12 1074.6V1083M732.76 1074.0V1083M735.40 1073.3V1083M738.04 1072.7V1083M740.68 1070.8V1083M743.32 1068.6V1083M745.96 1066.4V1083M748.60 1066.7V1083M751.24 1067.3V1083M753.88 1067.8V1083M756.52 1068.3V1083M759.16 1067.2V1083M761.80 1058.6V1083M764.44 1052.4V1083M767.08 1052.0V1083M769.72 1051.6V1083M772.36 1051.3V1083M775.00 1058.7V1083M777.64 1057.2V1083M780.28 1055.7V1083M782.92 1054.2V1083M785.56 1050.9V1083M788.20 1047.0V1083M790.84 1043.0V1083M793.48 1042.5V1083M796.12 1042.5V1083M798.76 1042.5V1083M801.40 1042.5V1083M804.04 1045.6V1083M806.68 1062.7V1083M809.32 1057.2V1083M811.96 1051.6V1083M814.60 1046.1V1083M817.24 1040.5V1083M819.88 1038.7V1083M822.52 1041.3V1083M825.16 1044.0V1083M827.80 1043.8V1083M830.44 1041.8V1083M833.08 1039.8V1083M835.72 1037.8V1083M838.36 1042.4V1083M841.00 1048.3V1083M843.64 1041.1V1083M846.28 1032.8V1083M848.92 1024.6V1083M851.56 1017.5V1083M854.20 1017.5V1083M856.84 1017.5V1083M859.48 1017.5V1083M862.12 1018.9V1083M864.76 1022.9V1083M867.40 1019.5V1083M870.04 1007.6V1083M872.68 1000.5V1083M875.32 994.8V1083M877.96 976.9V1083M880.60 958.9V1083M883.24 956.0V1083M885.88 957.3V1083M888.52 965.9V1083M891.16 975.4V1083M893.80 963.6V1083M896.44 934.5V1083M899.08 929.2V1083M901.72 923.9V1083M904.36 917.3V1083M907.00 906.7V1083M909.64 891.1V1083M912.28 866.7V1083M914.92 855.2V1083M917.56 858.3V1083M920.20 861.4V1083M922.84 866.5V1083M925.48 872.8V1083M928.12 877.5V1083M930.76 877.5V1083M933.40 865.7V1083M936.04 853.1V1083M938.68 842.5V1083M941.32 831.9V1083M943.96 827.5V1083M946.60 839.2V1083M949.24 837.8V1083M951.88 828.3V1083M954.52 821.7V1083M957.16 830.2V1083M959.80 851.1V1083M962.44 853.8V1083M965.08 850.1V1083M967.72 840.9V1083M970.36 831.6V1083M973.00 850.0V1083M975.64 875.1V1083M978.28 884.9V1083M980.92 894.7V1083M983.56 904.6V1083M986.20 908.8V1083M988.84 919.7V1083M991.48 966.6V1083M994.12 962.9V1083M996.76 960.5V1083M999.40 962.9V1083M1002.04 965.3V1083M1004.68 967.6V1083M1007.32 970.0V1083M1009.96 980.8V1083M1012.60 991.1V1083M1015.24 993.2V1083M1017.88 995.4V1083M1020.52 997.5V1083M1023.16 999.6V1083M1025.80 1007.1V1083M1028.44 1015.9V1083M1031.08 1024.7V1083M1033.72 1034.1V1083M1036.36 1043.6V1083M1039.00 1053.2V1083M1041.64 1062.7V1083M1044.28 1069.9V1083M1046.92 1069.2V1083M1049.56 1068.5V1083M1052.20 1067.9V1083M1054.84 1064.0V1083M1057.48 1056.1V1083M1060.12 1048.2V1083M1062.76 1041.8V1083M1065.40 1036.6V1083M1068.04 1031.3V1083M1070.68 1028.8V1083M1073.32 1027.2V1083M1075.96 1025.6V1083M1078.60 1024.0V1083M1081.24 1022.5V1083M1083.88 1021.8V1083M1086.52 1021.2V1083M1089.16 1020.5V1083M1091.80 1020.3V1083M1094.44 1021.6V1083M1097.08 1022.9V1083M1099.72 1024.3V1083M1102.36 1027.4V1083M1105.00 1032.6V1083M1107.64 1037.9V1083M1110.28 1035.2V1083M1112.92 1027.3V1083M1115.56 1022.7V1083M1118.20 1019.6V1083M1120.84 1019.3V1083M1123.48 1024.6V1083M1126.12 1029.9V1083M1128.76 1030.5V1083M1131.40 1031.0V1083M1134.04 1036.7V1083M1136.68 1045.7V1083M1139.32 1054.7V1083M1141.96 1064.0V1083M1144.60 1071.6V1083M1147.24 1076.2V1083M1149.88 1069.1V1083M1152.52 1067.7V1083M1239.64 1066.4V1083M1242.28 1059.9V1083M1244.92 1058.5V1083M1247.56 1057.0V1083M1250.20 1055.5V1083M1252.84 1057.2V1083M1255.48 1060.7V1083M1258.12 1064.3V1083M1260.76 1060.8V1083M1263.40 1055.6V1083M1266.04 1055.0V1083M1268.68 1055.0V1083M1271.32 1055.0V1083M1273.96 1055.0V1083M1276.60 1055.0V1083M1279.24 1054.9V1083M1281.88 1054.5V1083M1284.52 1054.0V1083M1287.16 1053.6V1083M1289.80 1053.1V1083M1292.44 1052.7V1083M1295.08 1048.3V1083M1297.72 1040.4V1083M1300.36 1034.7V1083M1303.00 1030.3V1083M1305.64 1025.9V1083M1308.28 1017.6V1083M1310.92 1008.4V1083M1313.56 1007.5V1083M1316.20 1007.7V1083M1318.84 1037.1V1083M1321.48 1029.8V1083M1324.12 1023.6V1083M1326.76 1022.5V1083M1329.40 1021.4V1083M1332.04 1020.3V1083M1334.68 1019.2V1083M1337.32 1018.1V1083M1339.96 1012.0V1083M1342.60 1000.5V1083M1345.24 989.1V1083M1347.88 984.3V1083M1350.52 983.3V1083M1353.16 982.2V1083M1355.80 981.2V1083M1358.44 980.1V1083M1361.08 976.8V1083M1363.72 973.3V1083M1366.36 970.0V1083M1369.00 969.5V1083M1371.64 969.1V1083M1374.28 970.1V1083M1376.92 976.0V1083M1379.56 980.6V1083M1382.20 982.3V1083M1384.84 984.1V1083M1387.48 987.9V1083M1390.12 993.7V1083M1392.76 999.5V1083M1395.40 1005.3V1083M1398.04 1011.1V1083M1400.68 1003.7V1083M1403.32 992.1V1083M1405.96 985.7V1083M1408.60 987.4V1083M1411.24 989.2V1083M1413.88 991.0V1083M1416.52 993.1V1083M1419.16 997.5V1083M1421.80 1001.9V1083M1424.44 1004.1V1083M1427.08 1001.0V1083M1429.72 998.0V1083M1432.36 994.9V1083M1435.00 991.8V1083M1437.64 988.7V1083M1440.28 990.3V1083M1442.92 994.9V1083M1445.56 999.5V1083M1448.20 1004.2V1083M1450.84 1010.4V1083M1453.48 1017.0V1083M1456.12 1012.6V1083M1458.76 1007.3V1083M1461.40 1002.1V1083M1464.04 997.1V1083M1466.68 994.2V1083M1469.32 991.2V1083M1471.96 988.3V1083M1474.60 985.4V1083M1477.24 997.0V1083M1479.88 1010.7V1083M1482.52 1016.8V1083M1485.16 1015.5V1083M1487.80 1014.2V1083M1490.44 1012.9V1083M1493.08 1011.5V1083M1495.72 1010.2V1083M1498.36 1006.4V1083M1501.00 1002.0V1083M1503.64 997.6V1083M1506.28 995.9V1083M1508.92 994.2V1083M1511.56 992.6V1083M1514.20 991.9V1083M1516.84 995.2V1083M1519.48 997.5V1083M1522.12 997.5V1083M1524.76 997.5V1083M1527.40 997.5V1083M1530.04 962.7V1083M1532.68 951.0V1083M1535.32 957.2V1083M1537.96 963.3V1083M1540.60 966.9V1083M1543.24 969.6V1083M1545.88 972.2V1083M1548.52 959.6V1083M1551.16 945.1V1083M1553.80 945.0V1083M1556.44 945.4V1083M1559.08 949.4V1083M1561.72 953.3V1083M1564.36 957.3V1083M1567.00 959.9V1083M1569.64 959.5V1083M1572.28 959.1V1083M1574.92 958.8V1083M1577.56 965.6V1083M1580.20 972.5V1083M1582.84 970.5V1083M1585.48 963.3V1083M1588.12 956.2V1083M1590.76 952.6V1083M1593.40 956.7V1083M1596.04 960.9V1083M1598.68 965.0V1083M1601.32 967.0V1083M1603.96 974.8V1083M1606.60 1022.7V1083M1609.24 1024.0V1083M1611.88 1025.4V1083M1614.52 1026.7V1083M1617.16 1026.4V1083M1619.80 1024.8V1083M1622.44 1025.1V1083M1625.08 1026.6V1083M1627.72 1049.4V1083M1630.36 1052.6V1083M1633.00 1053.6V1083M1635.64 1048.4V1083M1638.28 1045.8V1083M1640.92 1040.9V1083M1643.56 1036.5V1083M1646.20 1035.6V1083M1648.84 1038.3V1083M1651.48 1041.7V1083M1654.12 1042.7V1083M1656.76 1039.3V1083M1659.40 1037.5V1083M1662.04 1035.7V1083M1664.68 1054.5V1083M1667.32 1055.6V1083M1669.96 1055.6V1083M1672.60 1053.4V1083M1675.24 1050.6V1083M1677.88 1045.4V1083M1680.52 1041.6V1083M1683.16 1039.5V1083M1685.80 1036.9V1083M1688.44 1032.7V1083M1691.08 1028.9V1083M1693.72 1030.7V1083M1696.36 1032.4V1083M1699.00 1035.9V1083M1701.64 1040.3V1083M1704.28 1040.7V1083M1706.92 1041.2V1083M1709.56 1037.9V1083M1712.20 1031.2V1083M1714.84 1023.3V1083M1717.48 1020.4V1083M1720.12 1018.5V1083M1722.76 1019.1V1083M1725.40 1019.0V1083M1728.04 1007.0V1083M1730.68 1000.8V1083M1733.32 999.8V1083M1735.96 1000.2V1083M1738.60 1005.1V1083M1741.24 1012.5V1083M1743.88 1017.3V1083M1746.52 1019.4V1083M1749.16 1021.3V1083M1751.80 1023.6V1083M1754.44 1037.0V1083M1757.08 1041.2V1083M1759.72 1042.5V1083M1762.36 1043.2V1083M1765.00 1041.3V1083M1767.64 1042.2V1083M1770.28 1046.8V1083M1772.92 1051.9V1083M1775.56 1053.9V1083M1778.20 1051.4V1083M1780.84 1048.3V1083M1783.48 1045.0V1083M1786.12 1049.8V1083M1788.76 1055.5V1083M1791.40 1063.8V1083M1794.04 1076.2V1083" stroke="#55d64f" stroke-width="0.8" fill="none"/>
<path d="M80.68 1083V1087.5M83.32 1083V1087.5M85.96 1083V1087.5M88.60 1083V1087.5M91.24 1083V1087.5M93.88 1083V1087.5M96.52 1083V1087.5M99.16 1083V1087.5M101.80 1083V1087.5M104.44 1083V1087.5M107.08 1083V1084.3M133.48 1083V1085.0M136.12 1083V1085.0M138.76 1083V1085.0M328.84 1083V1083.3M331.48 1083V1087.6M334.12 1083V1089.0M336.76 1083V1090.3M339.40 1083V1091.6M342.04 1083V1092.2M344.68 1083V1091.3M347.32 1083V1090.5M349.96 1083V1089.7M352.60 1083V1089.0M355.24 1083V1088.4M357.88 1083V1087.7M360.52 1083V1090.0M363.16 1083V1093.5M365.80 1083V1097.0M368.44 1083V1098.9M371.08 1083V1100.4M373.72 1083V1102.0M376.36 1083V1103.6M379.00 1083V1105.2M381.64 1083V1106.5M384.28 1083V1107.8M386.92 1083V1109.1M389.56 1083V1109.9M392.20 1083V1109.7M394.84 1083V1109.5M397.48 1083V1109.3M400.12 1083V1109.0M402.76 1083V1108.8M405.40 1083V1107.7M408.04 1083V1106.0M410.68 1083V1104.4M413.32 1083V1102.7M415.96 1083V1101.0M418.60 1083V1099.2M421.24 1083V1097.5M423.88 1083V1095.7M426.52 1083V1093.9M429.16 1083V1092.1M431.80 1083V1090.2M434.44 1083V1088.2M437.08 1083V1086.2M439.72 1083V1084.4M442.36 1083V1083.0M553.24 1083V1084.6M555.88 1083V1083.2M666.76 1083V1085.6M669.40 1083V1087.1M672.04 1083V1085.8M674.68 1083V1084.5M677.32 1083V1083.9M679.96 1083V1084.4M682.60 1083V1084.8M685.24 1083V1086.2M687.88 1083V1088.1M690.52 1083V1089.4M693.16 1083V1090.2M695.80 1083V1091.1M698.44 1083V1084.5M701.08 1083V1086.1M703.72 1083V1088.8M706.36 1083V1090.8M709.00 1083V1092.7M711.64 1083V1094.7M714.28 1083V1096.1M716.92 1083V1095.6M719.56 1083V1095.1M722.20 1083V1094.5M724.84 1083V1094.0M1155.16 1083V1083.2M1157.80 1083V1094.1M1160.44 1083V1100.7M1163.08 1083V1101.7M1165.72 1083V1102.6M1168.36 1083V1103.6M1171.00 1083V1106.5M1173.64 1083V1109.5M1176.28 1083V1112.6M1178.92 1083V1114.6M1181.56 1083V1116.5M1184.20 1083V1118.5M1186.84 1083V1120.7M1189.48 1083V1123.3M1192.12 1083V1125.9M1194.76 1083V1126.0M1197.40 1083V1125.6M1200.04 1083V1125.3M1202.68 1083V1125.2M1205.32 1083V1127.4M1207.96 1083V1129.6M1210.60 1083V1129.4M1213.24 1083V1122.0M1215.88 1083V1114.6M1218.52 1083V1111.8M1221.16 1083V1109.6M1223.80 1083V1108.1M1226.44 1083V1121.3M1229.08 1083V1116.3M1231.72 1083V1102.7M1234.36 1083V1097.4M1237.00 1083V1092.1" stroke="#bb4343" stroke-width="0.8" fill="none"/>
<line x1="81" y1="1083" x2="1797" y2="1083" stroke="#4a8a4a" stroke-width="1.2"/>
<line x1="80" y1="602.5" x2="1800" y2="602.5" stroke="#8c8c8c" stroke-width="1"/>
<polyline points="196.0,548.8 220.0,551.0 280.0,551.0 350.0,551.0 367.5,556.0 380.0,561.0 405.0,570.0 430.0,577.5 505.0,577.5 900.0,577.0 1300.0,577.5 1500.0,578.0 1800.0,577.2" fill="none" stroke="#e8707a" stroke-width="1.6"/>
<polyline points="178.8,593.8 212.5,593.8 216.0,590.0 221.0,586.0 230.0,587.5 240.0,590.0 246.0,591.0 247.5,570.0 267.5,570.0 271.0,552.5 290.0,552.5 292.5,558.8 300.0,560.0 322.5,560.0 326.0,580.0 330.0,581.0 345.0,582.5 349.0,596.0 355.0,597.5 455.0,598.8 457.5,601.0 460.0,598.8 508.8,597.5 510.0,577.5 585.0,577.5 587.5,597.5 597.5,597.5 605.0,595.0 615.0,596.0 630.0,595.0 636.9,594.8 650.6,594.3 652.9,585.1 666.7,586.3 675.8,588.5 687.3,590.8 729.0,590.8 730.8,557.6 736.6,556.5 752.6,542.7 767.5,542.7 779.0,547.3 796.0,549.6 804.2,557.6 806.0,584.0 823.6,584.0 824.8,596.6 846.0,597.1 855.0,598.8 860.0,600.0 880.0,597.5 881.0,547.5 895.0,547.5 897.5,453.8 910.0,452.5 912.5,440.0 914.0,365.0 915.0,365.0 915.0,340.0 927.5,335.0 933.8,330.0 937.5,310.0 942.5,300.0 950.0,295.0 952.5,260.0 956.2,255.0 957.5,292.5 967.5,292.5 970.0,267.5 972.5,357.5 980.0,350.0 986.2,352.5 990.0,365.0 991.0,452.5 1005.0,455.0 1009.0,460.0 1010.0,450.0 1012.5,475.0 1025.0,477.5 1027.5,515.0 1037.5,535.0 1052.5,562.5 1065.0,565.0 1065.0,545.0 1077.5,557.5 1080.0,537.5 1090.0,550.0 1100.0,547.5 1112.5,550.0 1115.0,537.5 1135.0,540.0 1140.0,560.0 1150.0,525.0 1155.0,527.5 1157.5,542.5 1172.5,540.0 1187.5,545.0 1190.0,538.8 1194.0,551.0 1222.5,551.0 1226.0,538.8 1230.0,576.0 1239.0,576.0 1241.0,517.5 1242.5,517.5 1250.0,515.0 1265.0,517.5 1270.0,522.5 1277.5,517.5 1292.5,517.5 1297.5,505.0 1302.5,517.5 1310.0,517.5 1311.0,490.0 1317.5,490.0 1320.0,547.5 1341.0,547.5 1345.0,512.5 1350.0,512.5 1355.0,517.5 1367.5,502.5 1372.5,512.5 1385.0,505.0 1390.0,532.5 1400.0,522.5 1406.0,465.0 1417.5,465.0 1425.0,497.5 1437.5,497.5 1442.5,477.5 1447.5,492.5 1465.0,485.0 1477.5,485.0 1485.0,545.0 1495.0,541.0 1512.5,532.5 1517.5,550.0 1528.8,550.0 1532.5,455.0 1544.0,462.5 1549.0,455.0 1552.5,417.5 1557.5,415.0 1560.0,415.0 1582.5,414.0 1587.5,399.0 1590.0,380.0 1591.0,370.0 1605.0,370.0 1606.0,360.0 1610.0,452.5 1617.5,460.0 1621.0,455.0 1626.0,457.5 1628.0,502.5 1631.0,512.5 1635.0,514.4 1643.0,504.0 1648.6,502.0 1654.4,504.0 1659.0,500.6 1663.5,506.0 1665.8,524.7 1667.0,553.3 1676.0,552.0 1679.6,540.7 1683.0,551.0 1690.5,550.5 1693.3,528.0 1698.0,531.6 1709.4,536.0 1715.0,528.0 1723.0,536.0 1732.3,542.0 1743.8,545.0 1755.0,545.0 1756.4,559.0 1767.8,559.0 1769.0,581.0 1775.8,591.0 1780.4,590.0 1790.7,586.6 1793.0,593.4 1798.8,596.3" fill="none" stroke="#f2ad3c" stroke-width="1.7" stroke-linejoin="round"/>
<polyline points="190.0,487.0 197.5,445.0 202.5,467.0 207.5,415.0 212.5,407.0 219.0,360.0 222.5,375.0 230.0,375.0 240.0,337.5 249.0,380.0 254.0,342.5 264.0,390.0 266.0,377.5 275.0,422.5 280.0,430.0 285.0,450.0 290.0,440.0 295.0,495.0 305.0,502.5 315.0,525.0 320.0,545.0 327.5,565.0 332.5,590.0 337.5,600.0 344.0,610.0 349.0,590.0 357.5,580.0 365.0,595.0 370.0,610.0 374.0,595.0 380.0,620.0 390.0,637.5 405.0,630.0 417.5,605.0 430.0,590.0 442.5,575.0 455.0,565.0 467.5,535.0 480.0,512.5 490.0,515.0 502.0,549.0 513.5,560.5 518.0,564.0 528.4,569.7 535.3,566.2 542.2,561.7 544.5,567.4 549.0,596.0 554.8,606.4 560.5,590.3 569.7,573.0 577.7,552.5 583.4,548.0 585.7,534.2 604.0,503.2 619.0,507.8 635.0,534.2 641.9,543.3 664.4,589.7 670.0,602.3 675.8,593.0 683.9,590.8 689.6,602.3 698.8,597.7 704.5,609.2 713.6,623.0 725.0,613.8 733.0,608.0 742.3,605.7 748.0,604.6 753.8,612.6 760.6,610.3 764.0,600.0 767.5,578.2 774.4,577.0 777.8,582.8 782.4,574.8 792.7,551.9 804.2,554.2 811.0,532.4 819.0,510.6 824.8,515.2 831.7,507.2 842.0,501.5 855.0,475.0 865.0,465.0 880.0,415.0 885.0,380.0 897.5,440.0 910.0,390.0 915.0,407.5 930.0,472.5 945.0,407.5 951.0,452.5 957.5,437.5 962.5,461.0 977.5,427.5 990.0,510.0 997.5,500.0 1012.5,525.0 1022.5,557.5 1029.0,542.5 1034.0,560.0 1045.0,615.0 1050.0,602.5 1057.5,585.0 1070.0,525.0 1080.0,540.0 1092.5,515.0 1100.0,517.5 1105.0,550.0 1110.0,530.0 1115.0,547.5 1121.0,515.0 1125.0,535.0 1132.5,540.0 1137.5,555.0 1142.5,580.0 1147.5,610.0 1152.5,607.5 1160.0,665.0 1165.0,662.5 1172.5,665.0 1177.5,690.0 1184.0,672.5 1189.0,705.0 1196.0,705.0 1201.0,692.5 1211.0,715.0 1215.0,680.0 1230.0,685.0 1236.0,615.0 1250.0,627.5 1255.0,610.0 1262.5,627.5 1270.0,605.0 1285.0,612.5 1297.5,615.0 1302.5,575.0 1307.5,555.0 1315.0,550.0 1320.0,542.5 1325.0,530.0 1335.0,515.0 1345.0,487.5 1355.0,492.5 1362.5,477.5 1375.0,457.5 1385.0,490.0 1392.5,492.5 1402.5,525.0 1412.5,537.5 1420.0,552.5 1430.0,535.0 1442.5,530.0 1455.0,570.0 1465.0,545.0 1475.0,525.0 1487.5,517.5 1500.0,500.0 1512.5,480.0 1522.5,470.0 1532.5,475.0 1545.0,505.0 1555.0,507.5 1565.0,522.5 1575.0,542.5 1585.0,570.0 1592.5,575.0 1600.0,597.5 1610.0,615.0 1617.5,621.0 1631.5,614.0 1643.0,587.7 1647.5,587.7 1654.4,599.0 1660.0,594.6 1665.8,572.8 1669.0,574.0 1680.7,560.0 1684.0,548.8 1690.0,542.0 1694.5,545.0 1700.0,551.0 1707.0,565.0 1711.7,558.0 1717.4,537.0 1723.0,520.0 1729.0,503.0 1735.7,483.4 1745.0,515.5 1750.6,520.0 1757.5,544.0 1764.4,550.0 1771.0,535.0 1778.0,535.0 1786.0,521.0 1788.4,526.0 1792.0,549.0 1798.8,578.5" fill="none" stroke="#8fdc86" stroke-width="1.5" stroke-linejoin="round"/>
<path d="M83.0 671.4V678.4M85.6 668.8V677.8M88.3 650.7V679.5M90.9 654.2V661.9M93.6 655.0V662.0M96.2 655.6V660.1M98.8 653.8V692.2M101.5 682.5V688.5M104.1 679.6V696.8M106.8 682.6V696.5M109.4 674.7V693.7M112.0 675.6V688.8M114.7 683.3V696.2M117.3 690.7V702.9M120.0 691.9V701.2M122.6 687.2V698.6M125.2 687.9V709.5M127.9 705.4V710.7M130.5 698.7V711.4M133.2 701.0V711.4M135.8 685.8V708.5M138.4 681.4V697.0M141.1 682.7V694.3M143.7 677.3V693.7M146.4 675.7V687.4M149.0 675.2V687.4M151.6 679.7V692.6M154.3 680.3V688.9M156.9 681.2V690.4M159.6 676.9V692.0M162.2 677.5V690.2M164.8 678.3V691.8M167.5 674.8V689.7M170.1 661.4V689.0M172.8 651.4V675.4M175.4 650.4V662.8M178.0 641.0V660.8M180.7 627.7V650.5M183.3 630.1V641.8M186.0 618.2V639.1M188.6 616.1V621.6M191.2 616.7V626.5M193.9 616.3V622.5M196.5 614.4V627.7M199.2 617.0V624.4M201.8 613.4V628.1M204.4 611.9V629.0M207.1 617.9V631.8M209.7 621.8V635.6M212.4 614.7V627.9M215.0 582.6V626.2M217.6 565.7V589.9M220.3 539.3V571.7M222.9 543.4V550.0M225.6 540.4V551.1M228.2 531.6V551.5M230.8 517.2V546.2M233.5 496.1V523.7M236.1 494.3V542.2M238.8 507.0V542.4M241.4 508.4V519.2M244.0 506.1V518.6M246.7 501.8V509.5M249.3 494.8V505.6M252.0 483.0V498.9M254.6 469.0V488.9M257.2 467.6V474.5M259.9 468.8V482.4M262.5 468.5V489.8M265.2 484.6V504.6M267.8 496.9V522.0M270.4 508.6V528.9M273.1 502.8V521.3M275.7 505.8V549.3M278.4 532.0V550.6M281.0 518.6V538.0M283.6 515.2V534.9M286.3 501.0V518.5M288.9 484.7V507.5M291.6 483.7V498.9M294.2 479.3V495.5M296.8 481.9V491.1M299.5 481.7V492.4M302.1 478.0V491.7M304.8 478.7V486.4M307.4 475.0V513.9M310.0 497.2V527.4M312.7 499.6V526.9M315.3 496.7V512.3M318.0 489.7V500.8M320.6 486.4V496.8M323.2 476.9V494.2M325.9 471.3V486.5M328.5 473.4V493.9M331.2 476.4V493.2M333.8 486.6V497.8M336.4 492.4V527.6M339.1 519.0V535.6M341.7 519.6V537.3M344.4 526.3V544.9M347.0 535.8V550.9M349.6 536.3V557.3M352.3 523.0V554.8M354.9 521.9V537.3M357.6 514.5V531.8M360.2 503.7V522.4M362.8 508.3V529.6M365.5 514.2V530.3M368.1 525.9V532.3M370.8 521.9V539.8M373.4 530.1V541.8M376.0 525.4V541.8M378.7 531.7V542.2M381.3 534.8V550.2M384.0 540.3V578.7M386.6 544.8V581.0M389.2 540.3V558.0M391.9 527.4V547.5M394.5 531.8V539.3M397.2 532.8V542.6M399.8 533.7V542.9M402.4 536.5V550.1M405.1 538.0V549.7M407.7 538.7V553.8M410.4 540.0V553.9M413.0 538.2V550.3M415.6 528.3V544.3M418.3 519.3V536.0M420.9 516.2V531.2M423.6 513.8V522.1M426.2 508.2V521.8M428.8 502.0V520.1M431.5 474.6V512.9M434.1 478.2V488.7M436.8 480.3V491.7M439.4 481.3V500.1M442.0 488.9V502.7M444.7 486.1V500.1M447.3 488.5V500.6M450.0 489.9V504.4M452.6 493.2V506.2M455.2 496.1V511.5M457.9 496.4V512.2M460.5 495.4V508.2M463.2 495.6V513.5M465.8 490.0V503.1M468.4 492.5V502.3M471.1 488.6V497.4M473.7 481.0V496.5M476.4 475.3V496.7M479.0 486.3V500.7M481.6 487.1V496.7M484.3 485.3V503.3M486.9 490.6V503.2M489.6 489.8V509.4M492.2 495.6V518.5M494.8 508.6V522.5M497.5 512.0V522.0M500.1 513.8V521.2M502.8 508.8V518.0M505.4 510.4V529.5M508.0 523.7V529.7M510.7 519.8V532.5M513.3 525.9V537.9M516.0 521.7V539.4M518.6 528.8V536.9M521.2 532.5V550.5M523.9 540.1V559.0M526.5 545.8V565.3M529.2 542.6V556.3M531.8 551.0V565.4M534.4 548.6V563.6M537.1 546.1V555.7M539.7 534.5V552.2M542.4 538.8V550.1M545.0 534.9V555.9M547.6 546.8V569.5M550.3 560.2V578.9M552.9 566.3V584.6M555.6 575.4V594.7M558.2 583.1V591.2M560.8 573.7V592.1M563.5 576.7V582.1M566.1 577.7V582.9M568.8 571.4V583.4M571.4 561.5V578.2M574.0 553.6V571.0M576.7 544.8V559.8M579.3 527.7V549.7M582.0 522.4V536.1M584.6 524.8V534.0M587.2 509.8V529.2M589.9 500.2V522.7M592.5 499.4V515.5M595.2 500.3V513.4M597.8 501.8V524.5M600.4 511.9V528.3M603.1 513.9V527.8M605.7 500.2V525.4M608.4 503.0V512.1M611.0 508.5V521.7M613.6 511.7V521.8M616.3 517.8V532.7M618.9 516.6V532.2M621.6 521.9V529.3M624.2 522.8V543.3M626.8 536.4V562.8M629.5 555.1V611.7M632.1 591.9V608.4M634.8 594.2V609.4M637.4 546.7V601.0M640.0 548.6V554.9M642.7 545.4V559.4M645.3 551.8V573.5M648.0 561.6V571.6M650.6 556.5V566.9M653.2 556.9V568.5M655.9 563.9V578.9M658.5 564.5V581.2M661.2 562.3V576.7M663.8 561.3V577.6M666.4 563.3V572.2M669.1 558.5V570.8M671.7 548.5V574.1M674.4 553.9V564.3M677.0 525.4V562.6M679.6 525.8V541.3M682.3 530.0V538.5M684.9 527.4V548.1M687.6 533.0V573.3M690.2 559.9V574.9M692.8 560.0V574.2M695.5 564.6V569.9M698.1 566.3V573.5M700.8 567.4V578.1M703.4 564.1V576.8M706.0 564.2V579.8M708.7 568.4V580.4M711.3 572.0V610.4M714.0 597.6V609.1M716.6 595.8V604.8M719.2 574.8V605.3M721.9 579.2V585.1M724.5 572.6V583.6M727.2 562.5V588.2M729.8 552.6V573.4M732.4 552.8V566.8M735.1 553.2V569.2M737.7 557.2V569.0M740.4 565.2V574.4M743.0 547.2V574.8M745.6 537.9V555.3M748.3 536.5V546.6M750.9 530.6V544.7M753.6 529.4V540.5M756.2 529.4V540.6M758.8 528.4V536.5M761.5 523.0V535.7M764.1 518.9V539.6M766.8 519.9V532.4M769.4 512.8V530.3M772.0 515.8V524.7M774.7 518.3V544.4M777.3 533.1V561.0M780.0 552.6V561.1M782.6 546.1V558.0M785.2 538.5V560.4M787.9 536.9V552.8M790.5 541.0V553.3M793.2 539.0V547.3M795.8 545.1V553.3M798.4 543.8V562.2M801.1 550.2V562.5M803.7 539.1V560.0M806.4 536.8V549.6M809.0 524.2V539.7M811.6 509.7V538.6M814.3 500.6V521.5M816.9 503.2V513.0M819.6 496.0V512.9M822.2 500.7V510.2M824.8 501.9V507.7M827.5 495.1V513.7M830.1 493.6V514.2M832.8 502.7V516.1M835.4 507.3V516.1M838.0 506.6V521.6M840.7 498.8V518.1M843.3 499.0V515.2M846.0 490.2V510.4M848.6 474.8V500.2M851.2 465.6V486.2M853.9 465.5V483.7M856.5 474.2V483.5M859.2 473.6V494.5M861.8 487.7V498.9M864.4 491.8V506.9M867.1 487.3V503.1M869.7 476.0V499.5M872.4 437.0V486.4M875.0 438.5V444.8M877.6 436.4V449.1M880.3 355.0V441.8M882.9 347.4V369.0M885.6 345.1V357.8M888.2 339.5V351.5M890.8 337.4V344.1M893.5 337.7V344.9M896.1 334.3V349.1M898.8 323.8V344.3M901.4 312.6V336.0M904.0 299.1V320.7M906.7 283.5V306.3M909.3 273.8V287.0M912.0 277.3V289.5M914.6 275.4V287.2M917.2 281.2V301.9M919.9 294.8V334.6M922.5 305.6V337.8M925.2 295.1V315.4M927.8 297.4V309.7M930.4 286.8V303.5M933.1 289.3V298.6M935.7 293.4V308.4M938.4 286.9V307.8M941.0 279.7V297.5M943.6 281.4V290.7M946.3 272.3V289.7M948.9 266.2V284.3M951.6 263.5V281.9M954.2 260.3V275.1M956.8 263.7V302.3M959.5 282.2V303.4M962.1 263.8V288.5M964.8 259.5V273.0M967.4 245.5V268.1M970.0 239.8V253.2M972.7 227.3V247.4M975.3 227.8V235.9M978.0 226.7V256.1M980.6 251.6V294.7M983.2 281.3V297.9M985.9 283.7V298.6M988.5 290.9V301.0M991.2 289.4V312.6M993.8 295.4V307.2M996.4 275.0V305.3M999.1 275.6V301.5M1001.7 292.1V319.6M1004.4 308.4V316.9M1007.0 311.9V324.4M1009.6 313.5V327.6M1012.3 309.6V331.9M1014.9 302.7V319.7M1017.6 289.8V311.3M1020.2 281.6V301.4M1022.8 275.9V296.3M1025.5 264.7V287.3M1028.1 255.0V270.6M1030.8 257.2V294.4M1033.4 283.7V316.3M1036.0 305.5V329.1M1038.7 318.6V333.8M1041.3 315.5V322.7M1044.0 311.0V321.8M1046.6 291.5V320.6M1049.2 265.6V308.7M1051.9 258.9V276.1M1054.5 257.6V275.8M1057.2 245.8V261.3M1059.8 238.7V256.8M1062.4 236.9V248.7M1065.1 234.2V242.0M1067.7 229.3V240.3M1070.4 223.9V238.3M1073.0 227.6V242.5M1075.6 236.0V251.5M1078.3 236.3V254.2M1080.9 248.4V260.4M1083.6 251.7V270.9M1086.2 251.2V266.4M1088.8 234.3V254.9M1091.5 238.2V263.1M1094.1 248.5V270.9M1096.8 268.3V289.0M1099.4 256.3V290.6M1102.0 257.7V304.3M1104.7 292.4V301.3M1107.3 289.5V306.6M1110.0 296.0V307.4M1112.6 293.5V302.3M1115.2 293.0V304.1M1117.9 284.7V300.3M1120.5 283.6V294.5M1123.2 288.1V297.0M1125.8 282.1V300.6M1128.4 287.4V295.7M1131.1 288.1V301.5M1133.7 288.1V303.9M1136.4 294.0V310.9M1139.0 291.7V311.2M1141.6 281.7V302.9M1144.3 284.0V297.6M1146.9 286.5V301.0M1149.6 296.8V307.7M1152.2 297.7V333.3M1154.8 330.5V349.5M1157.5 340.4V368.5M1160.1 351.6V396.4M1162.8 383.3V389.3M1165.4 383.8V391.7M1168.0 366.0V390.4M1170.7 312.6V377.0M1173.3 309.5V368.3M1176.0 336.3V369.6M1178.6 337.0V347.3M1181.2 337.6V371.2M1183.9 362.3V376.7M1186.5 365.8V416.3M1189.2 410.7V431.4M1191.8 407.4V436.5M1194.4 388.4V413.2M1197.1 389.8V414.4M1199.7 393.7V408.4M1202.4 383.3V405.0M1205.0 381.9V394.9M1207.6 388.3V402.4M1210.3 387.1V405.6M1212.9 368.2V400.6M1215.6 367.5V391.5M1218.2 379.6V395.3M1220.8 380.0V393.6M1223.5 359.9V393.6M1226.1 363.6V375.1M1228.8 356.0V368.5M1231.4 358.8V372.0M1234.0 363.3V372.1M1236.7 366.0V401.6M1239.3 395.4V405.4M1242.0 392.2V402.2M1244.6 389.8V402.6M1247.2 374.6V393.4M1249.9 377.5V401.6M1252.5 386.9V404.4M1255.2 389.3V396.0M1257.8 386.6V409.5M1260.4 398.0V428.5M1263.1 423.9V434.0M1265.7 422.5V446.3M1268.4 397.1V451.6M1271.0 389.1V406.1M1273.6 380.3V396.9M1276.3 376.3V399.8M1278.9 386.3V394.0M1281.6 383.4V394.0M1284.2 388.5V399.0M1286.8 381.6V397.2M1289.5 379.5V394.1M1292.1 377.9V386.1M1294.8 380.4V388.2M1297.4 358.5V389.9M1300.0 319.9V370.6M1302.7 315.1V326.7M1305.3 313.3V322.3M1308.0 309.7V324.5M1310.6 313.0V321.0M1313.2 307.3V324.7M1315.9 311.0V317.2M1318.5 301.4V322.3M1321.2 298.5V311.4M1323.8 290.9V307.5M1326.4 289.3V305.3M1329.1 289.9V305.3M1331.7 295.7V317.8M1334.4 301.5V322.8M1337.0 289.2V308.2M1339.6 292.3V301.1M1342.3 244.8V299.1M1344.9 240.5V252.9M1347.6 235.7V253.0M1350.2 243.5V255.5M1352.8 242.3V251.9M1355.5 241.7V252.5M1358.1 243.6V256.0M1360.8 243.5V254.2M1363.4 245.9V257.1M1366.0 247.0V258.8M1368.7 225.4V257.0M1371.3 223.8V236.0M1374.0 210.6V227.9M1376.6 185.4V222.7M1379.2 187.8V224.9M1381.9 213.0V224.4M1384.5 209.2V222.2M1387.2 205.8V215.7M1389.8 202.4V211.3M1392.4 203.9V223.0M1395.1 214.5V240.9M1397.7 228.6V246.4M1400.4 235.0V249.0M1403.0 229.1V242.1M1405.6 226.8V246.7M1408.3 225.6V242.2M1410.9 230.0V255.8M1413.6 242.0V268.7M1416.2 234.2V262.3M1418.8 232.5V250.9M1421.5 231.0V243.6M1424.1 195.5V234.8M1426.8 194.3V206.8M1429.4 196.1V212.6M1432.0 205.5V240.9M1434.7 229.2V236.2M1437.3 226.9V236.7M1440.0 230.6V235.6M1442.6 230.2V245.0M1445.2 230.1V248.2M1447.9 237.1V247.9M1450.5 238.1V247.0M1453.2 235.6V254.4M1455.8 242.5V264.8M1458.4 253.7V273.1M1461.1 230.5V273.9M1463.7 216.5V236.5M1466.4 214.2V225.9M1469.0 211.6V227.4M1471.6 215.3V227.6M1474.3 213.0V221.6M1476.9 210.6V223.7M1479.6 214.7V231.9M1482.2 218.9V237.8M1484.8 201.8V231.3M1487.5 204.0V210.6M1490.1 208.3V214.7M1492.8 205.6V217.2M1495.4 205.6V220.1M1498.0 202.3V213.6M1500.7 170.4V205.5M1503.3 154.0V180.4M1506.0 145.3V158.9M1508.6 136.4V152.8M1511.2 129.3V141.8M1513.9 129.0V149.8M1516.5 141.7V153.5M1519.2 138.6V145.9M1521.8 138.2V147.6M1524.4 132.0V151.6M1527.1 140.1V150.7M1529.7 146.5V156.2M1532.4 134.7V153.8M1535.0 126.3V144.8M1537.6 124.0V146.0M1540.3 136.1V155.7M1542.9 143.2V152.8M1545.6 136.2V147.4M1548.2 136.0V147.7M1550.8 136.4V147.4M1553.5 133.4V147.6M1556.1 142.9V159.0M1558.8 148.0V172.4M1561.4 158.8V187.4M1564.0 178.0V188.4M1566.7 174.0V189.6M1569.3 161.8V182.1M1572.0 160.3V176.8M1574.6 145.5V166.1M1577.2 141.8V157.1M1579.9 141.6V150.6M1582.5 137.1V145.7M1585.2 126.1V146.9M1587.8 113.2V137.6M1590.4 100.8V122.9M1593.1 102.1V132.8M1595.7 121.0V153.2M1598.4 144.9V155.9M1601.0 141.0V154.2M1603.6 143.5V157.8M1606.3 153.6V169.2M1608.9 159.4V188.6M1611.6 163.3V183.6M1614.2 147.0V173.9M1616.8 152.1V177.5M1619.5 163.2V191.5M1622.1 178.7V200.2M1624.8 186.6V207.7M1627.4 187.4V207.9M1630.0 183.0V200.8M1632.7 181.9V204.4M1635.3 198.2V218.6M1638.0 211.0V222.3M1640.6 210.6V215.2M1643.2 201.0V221.2M1645.9 188.7V205.0M1648.5 191.3V196.7M1651.2 188.9V204.5M1653.8 191.9V206.9M1656.4 193.2V205.7M1659.1 186.1V202.3M1661.7 175.6V198.1M1664.4 171.0V191.1M1667.0 151.7V181.1M1669.6 157.9V163.6M1672.3 158.7V163.0M1674.9 153.7V170.1M1677.6 153.9V170.1M1680.2 151.2V163.2M1682.8 153.2V159.1M1685.5 147.9V161.6M1688.1 155.4V166.9M1690.8 161.3V170.1M1693.4 163.8V180.8M1696.0 170.1V184.7M1698.7 172.4V197.6M1701.3 184.8V213.4M1704.0 197.1V211.8M1706.6 183.0V205.6M1709.2 178.5V194.1M1711.9 167.2V185.0M1714.5 151.5V174.2M1717.2 132.4V161.7M1719.8 127.5V142.6M1722.4 107.9V137.3M1725.1 108.0V119.9M1727.7 95.1V116.4M1730.4 97.5V109.7M1733.0 101.0V125.2M1735.6 111.9V126.1M1738.3 111.7V121.0M1740.9 111.7V187.5M1743.6 180.6V201.1M1746.2 163.4V202.3M1748.8 158.4V174.8M1751.5 161.5V179.9M1754.1 171.8V195.3M1756.8 183.1V208.1M1759.4 198.3V226.2M1762.0 213.9V228.1M1764.7 191.8V221.5M1767.3 196.0V213.4M1770.0 202.4V224.7M1772.6 204.1V227.0M1775.2 188.1V215.5M1777.9 181.0V198.7M1780.5 170.3V192.5M1783.2 166.2V180.8M1785.8 171.5V183.8M1788.4 172.1V199.0M1791.1 191.3V212.1M1793.7 199.3V217.9M1796.4 204.7V218.4M1799.0 193.4V215.0M629.7 596V639M1097.5 258V337M1162 385V430M1265 426V455M1740.5 182V238M1757.5 222V250" stroke="#b9b9b9" stroke-width="0.9" fill="none"/>
<g fill="#367f6c"><rect x="81.5" y="675.0" width="3" height="1.2"/><rect x="84.1" y="675.0" width="3" height="1.2"/><rect x="86.8" y="656.0" width="3" height="19.6"/><rect x="107.9" y="683.5" width="3" height="8.8"/><rect x="118.5" y="694.3" width="3" height="1.2"/><rect x="121.1" y="693.3" width="3" height="1.3"/><rect x="126.4" y="706.9" width="3" height="1.2"/><rect x="129.0" y="705.1" width="3" height="1.8"/><rect x="131.7" y="704.5" width="3" height="1.2"/><rect x="134.3" y="690.4" width="3" height="14.7"/><rect x="136.9" y="688.7" width="3" height="1.7"/><rect x="139.6" y="685.7" width="3" height="3.1"/><rect x="142.2" y="682.5" width="3" height="3.2"/><rect x="150.1" y="684.0" width="3" height="1.5"/><rect x="152.8" y="682.5" width="3" height="1.5"/><rect x="160.7" y="685.5" width="3" height="1.2"/><rect x="163.3" y="684.8" width="3" height="1.2"/><rect x="166.0" y="680.5" width="3" height="4.5"/><rect x="168.6" y="669.1" width="3" height="11.3"/><rect x="171.3" y="656.2" width="3" height="12.9"/><rect x="173.9" y="651.9" width="3" height="4.4"/><rect x="176.5" y="647.2" width="3" height="4.7"/><rect x="179.2" y="635.3" width="3" height="11.9"/><rect x="181.8" y="634.2" width="3" height="1.2"/><rect x="184.5" y="619.4" width="3" height="15.0"/><rect x="187.1" y="618.4" width="3" height="1.2"/><rect x="208.2" y="625.6" width="3" height="1.9"/><rect x="210.9" y="623.3" width="3" height="2.3"/><rect x="213.5" y="585.0" width="3" height="38.3"/><rect x="216.1" y="568.6" width="3" height="16.4"/><rect x="218.8" y="545.0" width="3" height="23.6"/><rect x="221.4" y="544.4" width="3" height="1.2"/><rect x="224.1" y="544.4" width="3" height="1.2"/><rect x="226.7" y="540.2" width="3" height="4.8"/><rect x="229.3" y="522.3" width="3" height="18.0"/><rect x="232.0" y="502.5" width="3" height="19.8"/><rect x="237.3" y="515.0" width="3" height="20.0"/><rect x="239.9" y="512.6" width="3" height="2.4"/><rect x="242.5" y="507.9" width="3" height="4.6"/><rect x="245.2" y="503.3" width="3" height="4.6"/><rect x="247.8" y="497.5" width="3" height="5.8"/><rect x="250.5" y="486.7" width="3" height="10.8"/><rect x="253.1" y="470.0" width="3" height="16.7"/><rect x="255.7" y="469.4" width="3" height="1.2"/><rect x="268.9" y="516.4" width="3" height="3.6"/><rect x="271.6" y="507.5" width="3" height="8.9"/><rect x="276.9" y="535.7" width="3" height="11.8"/><rect x="279.5" y="526.3" width="3" height="9.5"/><rect x="282.1" y="516.4" width="3" height="9.9"/><rect x="284.8" y="506.3" width="3" height="10.1"/><rect x="287.4" y="490.0" width="3" height="16.3"/><rect x="290.1" y="488.9" width="3" height="1.2"/><rect x="292.7" y="487.2" width="3" height="1.8"/><rect x="295.3" y="485.0" width="3" height="2.2"/><rect x="298.0" y="484.1" width="3" height="1.2"/><rect x="300.6" y="483.3" width="3" height="1.2"/><rect x="303.3" y="482.4" width="3" height="1.2"/><rect x="311.2" y="507.1" width="3" height="12.9"/><rect x="313.8" y="499.5" width="3" height="7.6"/><rect x="316.5" y="493.6" width="3" height="5.9"/><rect x="319.1" y="487.7" width="3" height="5.9"/><rect x="321.7" y="480.0" width="3" height="7.7"/><rect x="350.8" y="530.0" width="3" height="20.0"/><rect x="353.4" y="524.4" width="3" height="5.6"/><rect x="356.1" y="518.2" width="3" height="6.2"/><rect x="358.7" y="512.5" width="3" height="5.7"/><rect x="385.1" y="550.0" width="3" height="22.5"/><rect x="387.7" y="544.8" width="3" height="5.2"/><rect x="390.4" y="535.0" width="3" height="9.8"/><rect x="406.2" y="544.4" width="3" height="1.2"/><rect x="408.9" y="544.4" width="3" height="1.2"/><rect x="411.5" y="543.2" width="3" height="1.8"/><rect x="414.1" y="533.5" width="3" height="9.7"/><rect x="416.8" y="523.8" width="3" height="9.7"/><rect x="419.4" y="517.2" width="3" height="6.6"/><rect x="422.1" y="516.2" width="3" height="1.2"/><rect x="424.7" y="515.0" width="3" height="1.3"/><rect x="427.3" y="505.6" width="3" height="9.4"/><rect x="430.0" y="480.0" width="3" height="25.6"/><rect x="440.5" y="494.4" width="3" height="1.2"/><rect x="443.2" y="494.4" width="3" height="1.2"/><rect x="445.8" y="494.4" width="3" height="1.2"/><rect x="461.7" y="501.1" width="3" height="3.9"/><rect x="464.3" y="497.8" width="3" height="3.3"/><rect x="466.9" y="494.5" width="3" height="3.3"/><rect x="469.6" y="490.2" width="3" height="4.3"/><rect x="472.2" y="482.6" width="3" height="7.6"/><rect x="480.1" y="493.4" width="3" height="1.2"/><rect x="482.8" y="493.4" width="3" height="1.2"/><rect x="485.4" y="493.4" width="3" height="1.2"/><rect x="496.0" y="517.1" width="3" height="1.2"/><rect x="498.6" y="516.4" width="3" height="1.2"/><rect x="501.3" y="515.6" width="3" height="1.2"/><rect x="525.0" y="550.2" width="3" height="6.8"/><rect x="532.9" y="554.2" width="3" height="2.8"/><rect x="535.6" y="547.8" width="3" height="6.4"/><rect x="538.2" y="541.0" width="3" height="6.8"/><rect x="540.9" y="540.4" width="3" height="1.2"/><rect x="559.3" y="578.9" width="3" height="10.3"/><rect x="567.3" y="574.9" width="3" height="5.1"/><rect x="569.9" y="568.5" width="3" height="6.4"/><rect x="572.5" y="558.6" width="3" height="9.9"/><rect x="575.2" y="548.6" width="3" height="10.1"/><rect x="577.8" y="530.7" width="3" height="17.9"/><rect x="580.5" y="529.3" width="3" height="1.4"/><rect x="583.1" y="527.3" width="3" height="2.0"/><rect x="585.7" y="518.3" width="3" height="9.0"/><rect x="588.4" y="507.8" width="3" height="10.5"/><rect x="591.0" y="504.4" width="3" height="3.4"/><rect x="604.2" y="504.4" width="3" height="17.2"/><rect x="630.6" y="600.7" width="3" height="2.3"/><rect x="633.3" y="597.2" width="3" height="3.5"/><rect x="635.9" y="550.2" width="3" height="47.0"/><rect x="638.5" y="549.6" width="3" height="1.2"/><rect x="646.5" y="562.7" width="3" height="5.8"/><rect x="649.1" y="558.2" width="3" height="4.5"/><rect x="657.0" y="570.2" width="3" height="5.8"/><rect x="659.7" y="569.3" width="3" height="1.2"/><rect x="662.3" y="568.0" width="3" height="1.5"/><rect x="664.9" y="567.4" width="3" height="1.2"/><rect x="667.6" y="567.4" width="3" height="1.2"/><rect x="670.2" y="555.3" width="3" height="12.7"/><rect x="675.5" y="533.5" width="3" height="23.1"/><rect x="678.1" y="532.6" width="3" height="1.2"/><rect x="680.8" y="532.1" width="3" height="1.2"/><rect x="701.9" y="569.6" width="3" height="1.2"/><rect x="712.5" y="602.6" width="3" height="1.2"/><rect x="715.1" y="602.1" width="3" height="1.2"/><rect x="717.7" y="581.7" width="3" height="20.6"/><rect x="720.4" y="580.7" width="3" height="1.2"/><rect x="723.0" y="579.4" width="3" height="1.6"/><rect x="725.7" y="569.4" width="3" height="10.0"/><rect x="728.3" y="557.6" width="3" height="11.8"/><rect x="741.5" y="554.2" width="3" height="17.2"/><rect x="744.1" y="543.4" width="3" height="10.8"/><rect x="746.8" y="538.0" width="3" height="5.4"/><rect x="749.4" y="537.0" width="3" height="1.2"/><rect x="752.1" y="535.8" width="3" height="1.3"/><rect x="754.7" y="534.5" width="3" height="1.3"/><rect x="757.3" y="533.1" width="3" height="1.4"/><rect x="760.0" y="531.1" width="3" height="2.0"/><rect x="762.6" y="527.8" width="3" height="3.4"/><rect x="765.3" y="521.0" width="3" height="6.8"/><rect x="767.9" y="520.4" width="3" height="1.2"/><rect x="770.5" y="520.4" width="3" height="1.2"/><rect x="778.5" y="554.7" width="3" height="1.2"/><rect x="781.1" y="554.7" width="3" height="1.2"/><rect x="783.7" y="546.1" width="3" height="9.2"/><rect x="786.4" y="545.0" width="3" height="1.2"/><rect x="789.0" y="543.9" width="3" height="1.2"/><rect x="799.6" y="552.3" width="3" height="6.5"/><rect x="802.2" y="542.6" width="3" height="9.7"/><rect x="804.9" y="537.8" width="3" height="4.8"/><rect x="807.5" y="531.9" width="3" height="5.8"/><rect x="810.1" y="518.2" width="3" height="13.8"/><rect x="812.8" y="508.9" width="3" height="9.3"/><rect x="815.4" y="507.1" width="3" height="1.7"/><rect x="818.1" y="505.0" width="3" height="2.1"/><rect x="826.0" y="496.9" width="3" height="9.1"/><rect x="833.9" y="512.4" width="3" height="1.2"/><rect x="836.5" y="510.6" width="3" height="2.4"/><rect x="839.2" y="506.9" width="3" height="3.7"/><rect x="841.8" y="505.0" width="3" height="1.9"/><rect x="844.5" y="498.8" width="3" height="6.2"/><rect x="847.1" y="481.6" width="3" height="17.2"/><rect x="849.7" y="472.5" width="3" height="9.1"/><rect x="865.6" y="496.1" width="3" height="3.9"/><rect x="868.2" y="482.2" width="3" height="13.9"/><rect x="870.9" y="442.5" width="3" height="39.7"/><rect x="873.5" y="440.8" width="3" height="1.7"/><rect x="876.1" y="439.1" width="3" height="1.8"/><rect x="878.8" y="360.0" width="3" height="79.1"/><rect x="881.4" y="355.7" width="3" height="4.3"/><rect x="884.1" y="349.7" width="3" height="5.9"/><rect x="886.7" y="342.0" width="3" height="7.7"/><rect x="889.3" y="341.2" width="3" height="1.2"/><rect x="892.0" y="340.6" width="3" height="1.2"/><rect x="894.6" y="339.8" width="3" height="1.2"/><rect x="897.3" y="330.8" width="3" height="9.2"/><rect x="899.9" y="317.0" width="3" height="13.8"/><rect x="902.5" y="303.1" width="3" height="13.8"/><rect x="905.2" y="285.0" width="3" height="18.1"/><rect x="907.8" y="282.5" width="3" height="2.5"/><rect x="921.0" y="314.3" width="3" height="15.7"/><rect x="923.7" y="303.1" width="3" height="11.2"/><rect x="926.3" y="298.7" width="3" height="4.4"/><rect x="928.9" y="295.0" width="3" height="3.7"/><rect x="936.9" y="294.6" width="3" height="5.4"/><rect x="939.5" y="288.5" width="3" height="6.1"/><rect x="942.1" y="283.3" width="3" height="5.2"/><rect x="944.8" y="277.5" width="3" height="5.8"/><rect x="947.4" y="274.8" width="3" height="2.7"/><rect x="950.1" y="269.7" width="3" height="5.1"/><rect x="952.7" y="265.0" width="3" height="4.7"/><rect x="958.0" y="285.1" width="3" height="9.9"/><rect x="960.6" y="270.0" width="3" height="15.1"/><rect x="963.3" y="261.5" width="3" height="8.5"/><rect x="965.9" y="251.6" width="3" height="9.9"/><rect x="968.5" y="241.7" width="3" height="9.9"/><rect x="971.2" y="232.5" width="3" height="9.2"/><rect x="973.8" y="231.9" width="3" height="1.2"/><rect x="992.3" y="298.9" width="3" height="7.1"/><rect x="994.9" y="280.0" width="3" height="18.9"/><rect x="1010.8" y="317.0" width="3" height="8.0"/><rect x="1013.4" y="307.8" width="3" height="9.2"/><rect x="1016.1" y="298.5" width="3" height="9.2"/><rect x="1018.7" y="289.2" width="3" height="9.3"/><rect x="1021.3" y="278.6" width="3" height="10.6"/><rect x="1024.0" y="268.1" width="3" height="10.6"/><rect x="1026.6" y="260.0" width="3" height="8.1"/><rect x="1037.2" y="321.3" width="3" height="3.7"/><rect x="1039.8" y="317.6" width="3" height="3.7"/><rect x="1042.5" y="312.5" width="3" height="5.1"/><rect x="1045.1" y="299.7" width="3" height="12.8"/><rect x="1047.7" y="272.5" width="3" height="27.2"/><rect x="1050.4" y="267.3" width="3" height="5.2"/><rect x="1053.0" y="260.1" width="3" height="7.3"/><rect x="1055.7" y="252.8" width="3" height="7.3"/><rect x="1058.3" y="245.0" width="3" height="7.8"/><rect x="1060.9" y="240.9" width="3" height="4.1"/><rect x="1063.6" y="236.5" width="3" height="4.4"/><rect x="1066.2" y="232.5" width="3" height="4.0"/><rect x="1084.7" y="253.7" width="3" height="8.8"/><rect x="1087.3" y="242.5" width="3" height="11.2"/><rect x="1097.9" y="264.7" width="3" height="22.8"/><rect x="1108.5" y="299.1" width="3" height="1.6"/><rect x="1111.1" y="297.0" width="3" height="2.1"/><rect x="1113.7" y="294.0" width="3" height="3.0"/><rect x="1116.4" y="293.1" width="3" height="1.2"/><rect x="1119.0" y="292.1" width="3" height="1.2"/><rect x="1121.7" y="291.0" width="3" height="1.2"/><rect x="1137.5" y="299.3" width="3" height="4.7"/><rect x="1140.1" y="287.6" width="3" height="11.7"/><rect x="1161.3" y="386.4" width="3" height="1.2"/><rect x="1163.9" y="385.6" width="3" height="1.2"/><rect x="1166.5" y="372.7" width="3" height="13.1"/><rect x="1169.2" y="315.5" width="3" height="57.2"/><rect x="1174.5" y="343.3" width="3" height="18.6"/><rect x="1190.3" y="409.6" width="3" height="18.8"/><rect x="1192.9" y="394.0" width="3" height="15.6"/><rect x="1198.2" y="398.7" width="3" height="6.8"/><rect x="1200.9" y="390.8" width="3" height="7.9"/><rect x="1211.4" y="369.5" width="3" height="27.8"/><rect x="1216.7" y="388.4" width="3" height="1.2"/><rect x="1219.3" y="388.4" width="3" height="1.2"/><rect x="1222.0" y="367.8" width="3" height="21.2"/><rect x="1224.6" y="366.6" width="3" height="1.2"/><rect x="1227.3" y="364.6" width="3" height="2.1"/><rect x="1237.8" y="398.4" width="3" height="1.2"/><rect x="1240.5" y="398.4" width="3" height="1.2"/><rect x="1243.1" y="390.9" width="3" height="8.1"/><rect x="1245.7" y="381.0" width="3" height="9.9"/><rect x="1251.0" y="394.2" width="3" height="4.8"/><rect x="1253.7" y="390.8" width="3" height="3.4"/><rect x="1261.6" y="426.2" width="3" height="1.2"/><rect x="1266.9" y="400.6" width="3" height="42.4"/><rect x="1269.5" y="392.6" width="3" height="8.0"/><rect x="1272.1" y="384.2" width="3" height="8.4"/><rect x="1277.4" y="390.2" width="3" height="1.2"/><rect x="1280.1" y="390.2" width="3" height="1.2"/><rect x="1282.7" y="389.6" width="3" height="1.2"/><rect x="1285.3" y="386.0" width="3" height="3.6"/><rect x="1288.0" y="383.7" width="3" height="2.3"/><rect x="1290.6" y="382.6" width="3" height="1.2"/><rect x="1293.3" y="381.6" width="3" height="1.2"/><rect x="1295.9" y="364.6" width="3" height="17.0"/><rect x="1298.5" y="321.7" width="3" height="42.9"/><rect x="1301.2" y="319.0" width="3" height="2.6"/><rect x="1303.8" y="315.5" width="3" height="3.5"/><rect x="1306.5" y="314.9" width="3" height="1.2"/><rect x="1309.1" y="314.9" width="3" height="1.2"/><rect x="1311.7" y="314.8" width="3" height="1.2"/><rect x="1314.4" y="313.5" width="3" height="1.7"/><rect x="1317.0" y="309.9" width="3" height="3.6"/><rect x="1319.7" y="303.3" width="3" height="6.6"/><rect x="1322.3" y="299.3" width="3" height="4.0"/><rect x="1324.9" y="297.5" width="3" height="1.8"/><rect x="1332.9" y="305.7" width="3" height="9.3"/><rect x="1335.5" y="296.9" width="3" height="8.8"/><rect x="1338.1" y="295.0" width="3" height="1.9"/><rect x="1340.8" y="249.9" width="3" height="45.1"/><rect x="1343.4" y="242.5" width="3" height="7.4"/><rect x="1351.3" y="249.4" width="3" height="1.2"/><rect x="1354.0" y="249.4" width="3" height="1.2"/><rect x="1356.6" y="249.4" width="3" height="1.2"/><rect x="1367.2" y="230.0" width="3" height="22.5"/><rect x="1369.8" y="225.0" width="3" height="5.0"/><rect x="1372.5" y="215.5" width="3" height="9.5"/><rect x="1375.1" y="192.5" width="3" height="23.0"/><rect x="1380.4" y="217.8" width="3" height="4.7"/><rect x="1383.0" y="211.2" width="3" height="6.6"/><rect x="1385.7" y="207.5" width="3" height="3.7"/><rect x="1398.9" y="240.0" width="3" height="5.0"/><rect x="1401.5" y="237.7" width="3" height="2.3"/><rect x="1404.1" y="234.6" width="3" height="3.0"/><rect x="1406.8" y="232.5" width="3" height="2.1"/><rect x="1414.7" y="242.5" width="3" height="17.5"/><rect x="1417.3" y="239.8" width="3" height="2.7"/><rect x="1420.0" y="232.5" width="3" height="7.3"/><rect x="1422.6" y="202.5" width="3" height="30.0"/><rect x="1433.2" y="231.9" width="3" height="1.2"/><rect x="1435.8" y="231.9" width="3" height="1.2"/><rect x="1438.5" y="231.9" width="3" height="1.2"/><rect x="1446.4" y="239.4" width="3" height="1.2"/><rect x="1459.6" y="232.3" width="3" height="32.7"/><rect x="1462.2" y="222.5" width="3" height="9.8"/><rect x="1464.9" y="221.6" width="3" height="1.2"/><rect x="1467.5" y="220.5" width="3" height="1.3"/><rect x="1470.1" y="219.2" width="3" height="1.3"/><rect x="1472.8" y="217.5" width="3" height="1.7"/><rect x="1480.7" y="225.0" width="3" height="3.9"/><rect x="1483.3" y="207.5" width="3" height="17.5"/><rect x="1491.3" y="211.6" width="3" height="1.2"/><rect x="1493.9" y="210.7" width="3" height="1.2"/><rect x="1496.5" y="204.3" width="3" height="6.5"/><rect x="1499.2" y="176.6" width="3" height="27.7"/><rect x="1501.8" y="155.0" width="3" height="21.6"/><rect x="1504.5" y="147.1" width="3" height="7.9"/><rect x="1507.1" y="139.2" width="3" height="7.9"/><rect x="1509.7" y="135.0" width="3" height="4.2"/><rect x="1515.0" y="143.7" width="3" height="1.3"/><rect x="1517.7" y="141.5" width="3" height="2.2"/><rect x="1520.3" y="140.0" width="3" height="1.5"/><rect x="1530.9" y="140.2" width="3" height="9.8"/><rect x="1533.5" y="132.5" width="3" height="7.7"/><rect x="1541.4" y="144.5" width="3" height="3.0"/><rect x="1544.1" y="140.5" width="3" height="4.1"/><rect x="1546.7" y="137.5" width="3" height="3.0"/><rect x="1562.5" y="181.4" width="3" height="3.6"/><rect x="1565.2" y="175.4" width="3" height="6.1"/><rect x="1567.8" y="169.1" width="3" height="6.3"/><rect x="1570.5" y="161.4" width="3" height="7.7"/><rect x="1573.1" y="152.5" width="3" height="8.9"/><rect x="1575.7" y="148.8" width="3" height="3.7"/><rect x="1578.4" y="144.4" width="3" height="4.4"/><rect x="1581.0" y="139.9" width="3" height="4.4"/><rect x="1583.7" y="129.8" width="3" height="10.1"/><rect x="1586.3" y="119.7" width="3" height="10.1"/><rect x="1588.9" y="107.5" width="3" height="12.2"/><rect x="1610.1" y="170.2" width="3" height="9.8"/><rect x="1612.7" y="155.0" width="3" height="15.2"/><rect x="1625.9" y="194.0" width="3" height="6.0"/><rect x="1628.5" y="187.5" width="3" height="6.5"/><rect x="1639.1" y="212.7" width="3" height="1.2"/><rect x="1641.7" y="202.8" width="3" height="9.9"/><rect x="1644.4" y="192.5" width="3" height="10.3"/><rect x="1654.9" y="194.7" width="3" height="5.3"/><rect x="1657.6" y="190.0" width="3" height="4.7"/><rect x="1660.2" y="183.1" width="3" height="6.9"/><rect x="1662.9" y="172.6" width="3" height="10.6"/><rect x="1665.5" y="160.0" width="3" height="12.6"/><rect x="1676.1" y="159.9" width="3" height="2.6"/><rect x="1678.7" y="157.3" width="3" height="2.6"/><rect x="1681.3" y="155.0" width="3" height="2.3"/><rect x="1702.5" y="198.4" width="3" height="9.1"/><rect x="1705.1" y="187.5" width="3" height="10.9"/><rect x="1707.7" y="182.3" width="3" height="5.2"/><rect x="1710.4" y="172.5" width="3" height="9.8"/><rect x="1713.0" y="159.4" width="3" height="13.1"/><rect x="1715.7" y="140.0" width="3" height="19.4"/><rect x="1718.3" y="128.5" width="3" height="11.5"/><rect x="1720.9" y="115.0" width="3" height="13.5"/><rect x="1723.6" y="109.0" width="3" height="6.0"/><rect x="1726.2" y="100.0" width="3" height="9.0"/><rect x="1734.1" y="115.0" width="3" height="2.5"/><rect x="1744.7" y="165.0" width="3" height="30.0"/><rect x="1760.5" y="216.5" width="3" height="8.5"/><rect x="1763.2" y="200.0" width="3" height="16.5"/><rect x="1771.1" y="209.3" width="3" height="10.7"/><rect x="1773.7" y="195.1" width="3" height="14.2"/><rect x="1776.4" y="184.8" width="3" height="10.4"/><rect x="1779.0" y="172.5" width="3" height="12.3"/><rect x="1794.9" y="207.3" width="3" height="7.7"/><rect x="1797.5" y="200.0" width="3" height="7.3"/></g>
<g fill="#a34d5f"><rect x="89.4" y="655.7" width="3" height="1.2"/><rect x="92.1" y="656.3" width="3" height="1.2"/><rect x="94.7" y="657.2" width="3" height="1.2"/><rect x="97.3" y="658.2" width="3" height="26.4"/><rect x="100.0" y="684.5" width="3" height="1.2"/><rect x="102.6" y="685.6" width="3" height="2.6"/><rect x="105.3" y="688.2" width="3" height="4.1"/><rect x="110.5" y="683.5" width="3" height="2.0"/><rect x="113.2" y="685.5" width="3" height="8.8"/><rect x="115.8" y="694.2" width="3" height="1.2"/><rect x="123.7" y="693.3" width="3" height="14.7"/><rect x="144.9" y="682.5" width="3" height="1.6"/><rect x="147.5" y="684.1" width="3" height="1.4"/><rect x="155.4" y="682.5" width="3" height="1.5"/><rect x="158.1" y="684.0" width="3" height="2.4"/><rect x="189.7" y="618.2" width="3" height="1.2"/><rect x="192.4" y="618.3" width="3" height="1.2"/><rect x="195.0" y="618.5" width="3" height="1.2"/><rect x="197.7" y="618.6" width="3" height="1.2"/><rect x="200.3" y="618.8" width="3" height="1.2"/><rect x="202.9" y="619.5" width="3" height="1.6"/><rect x="205.6" y="621.1" width="3" height="6.4"/><rect x="234.6" y="502.5" width="3" height="32.5"/><rect x="258.4" y="470.0" width="3" height="4.4"/><rect x="261.0" y="474.4" width="3" height="13.2"/><rect x="263.7" y="487.6" width="3" height="13.2"/><rect x="266.3" y="500.8" width="3" height="19.2"/><rect x="274.2" y="507.5" width="3" height="40.0"/><rect x="305.9" y="482.5" width="3" height="22.5"/><rect x="308.5" y="505.0" width="3" height="15.0"/><rect x="324.4" y="480.0" width="3" height="1.9"/><rect x="327.0" y="481.9" width="3" height="3.1"/><rect x="329.7" y="485.0" width="3" height="4.3"/><rect x="332.3" y="489.3" width="3" height="5.7"/><rect x="334.9" y="495.0" width="3" height="30.0"/><rect x="337.6" y="525.0" width="3" height="2.4"/><rect x="340.2" y="527.4" width="3" height="5.1"/><rect x="342.9" y="532.5" width="3" height="5.0"/><rect x="345.5" y="537.5" width="3" height="7.1"/><rect x="348.1" y="544.6" width="3" height="5.4"/><rect x="361.3" y="512.5" width="3" height="8.5"/><rect x="364.0" y="521.0" width="3" height="6.9"/><rect x="366.6" y="527.9" width="3" height="2.2"/><rect x="369.3" y="530.1" width="3" height="2.2"/><rect x="371.9" y="532.3" width="3" height="1.9"/><rect x="374.5" y="534.2" width="3" height="1.3"/><rect x="377.2" y="535.5" width="3" height="1.3"/><rect x="379.8" y="536.8" width="3" height="12.2"/><rect x="382.5" y="549.0" width="3" height="23.5"/><rect x="393.0" y="534.8" width="3" height="1.2"/><rect x="395.7" y="535.7" width="3" height="1.2"/><rect x="398.3" y="536.8" width="3" height="1.7"/><rect x="400.9" y="538.5" width="3" height="3.3"/><rect x="403.6" y="541.8" width="3" height="3.2"/><rect x="432.6" y="480.0" width="3" height="3.2"/><rect x="435.3" y="483.2" width="3" height="5.3"/><rect x="437.9" y="488.5" width="3" height="6.5"/><rect x="448.5" y="495.0" width="3" height="2.8"/><rect x="451.1" y="497.8" width="3" height="3.0"/><rect x="453.7" y="500.9" width="3" height="2.1"/><rect x="456.4" y="503.0" width="3" height="1.2"/><rect x="459.0" y="504.0" width="3" height="1.2"/><rect x="474.9" y="482.6" width="3" height="5.9"/><rect x="477.5" y="488.5" width="3" height="5.5"/><rect x="488.1" y="494.0" width="3" height="10.5"/><rect x="490.7" y="504.5" width="3" height="6.3"/><rect x="493.3" y="510.8" width="3" height="7.2"/><rect x="503.9" y="515.8" width="3" height="9.2"/><rect x="506.5" y="524.8" width="3" height="1.2"/><rect x="509.2" y="525.8" width="3" height="1.6"/><rect x="511.8" y="527.4" width="3" height="1.6"/><rect x="514.5" y="529.0" width="3" height="1.6"/><rect x="517.1" y="530.7" width="3" height="3.1"/><rect x="519.7" y="533.8" width="3" height="9.5"/><rect x="522.4" y="543.3" width="3" height="13.7"/><rect x="527.7" y="550.2" width="3" height="3.0"/><rect x="530.3" y="553.2" width="3" height="3.8"/><rect x="543.5" y="541.0" width="3" height="7.5"/><rect x="546.1" y="548.5" width="3" height="13.2"/><rect x="548.8" y="561.7" width="3" height="9.3"/><rect x="551.4" y="571.0" width="3" height="9.9"/><rect x="554.1" y="580.9" width="3" height="5.4"/><rect x="556.7" y="586.3" width="3" height="2.9"/><rect x="562.0" y="578.6" width="3" height="1.2"/><rect x="564.6" y="579.1" width="3" height="1.2"/><rect x="593.7" y="504.4" width="3" height="3.9"/><rect x="596.3" y="508.3" width="3" height="7.3"/><rect x="598.9" y="515.7" width="3" height="5.0"/><rect x="601.6" y="520.5" width="3" height="1.2"/><rect x="606.9" y="504.4" width="3" height="5.7"/><rect x="609.5" y="510.1" width="3" height="4.7"/><rect x="612.1" y="514.8" width="3" height="4.7"/><rect x="614.8" y="519.5" width="3" height="5.5"/><rect x="617.4" y="524.6" width="3" height="1.2"/><rect x="620.1" y="525.2" width="3" height="1.2"/><rect x="622.7" y="526.1" width="3" height="12.6"/><rect x="625.3" y="538.7" width="3" height="19.5"/><rect x="628.0" y="558.2" width="3" height="44.8"/><rect x="641.2" y="550.2" width="3" height="4.2"/><rect x="643.8" y="554.4" width="3" height="14.1"/><rect x="651.7" y="558.2" width="3" height="9.2"/><rect x="654.4" y="567.4" width="3" height="8.6"/><rect x="672.9" y="555.3" width="3" height="1.3"/><rect x="683.4" y="532.4" width="3" height="8.0"/><rect x="686.1" y="540.4" width="3" height="25.3"/><rect x="688.7" y="565.5" width="3" height="1.2"/><rect x="691.3" y="566.5" width="3" height="1.2"/><rect x="694.0" y="567.4" width="3" height="1.2"/><rect x="696.6" y="568.4" width="3" height="1.2"/><rect x="699.3" y="569.2" width="3" height="1.2"/><rect x="704.5" y="570.2" width="3" height="3.1"/><rect x="707.2" y="573.3" width="3" height="6.1"/><rect x="709.8" y="579.4" width="3" height="24.0"/><rect x="730.9" y="557.6" width="3" height="2.7"/><rect x="733.6" y="560.3" width="3" height="3.0"/><rect x="736.2" y="563.3" width="3" height="4.1"/><rect x="738.9" y="567.4" width="3" height="4.0"/><rect x="773.2" y="521.0" width="3" height="14.8"/><rect x="775.8" y="535.8" width="3" height="19.5"/><rect x="791.7" y="543.9" width="3" height="2.2"/><rect x="794.3" y="546.1" width="3" height="2.3"/><rect x="796.9" y="548.4" width="3" height="10.4"/><rect x="820.7" y="504.6" width="3" height="1.2"/><rect x="823.3" y="505.1" width="3" height="1.2"/><rect x="828.6" y="496.9" width="3" height="8.8"/><rect x="831.3" y="505.7" width="3" height="7.3"/><rect x="852.4" y="472.5" width="3" height="5.0"/><rect x="855.0" y="477.5" width="3" height="4.6"/><rect x="857.7" y="482.1" width="3" height="10.4"/><rect x="860.3" y="492.5" width="3" height="2.7"/><rect x="862.9" y="495.2" width="3" height="4.8"/><rect x="910.5" y="282.3" width="3" height="1.2"/><rect x="913.1" y="283.3" width="3" height="1.2"/><rect x="915.7" y="284.4" width="3" height="14.5"/><rect x="918.4" y="298.9" width="3" height="31.1"/><rect x="931.6" y="295.0" width="3" height="2.6"/><rect x="934.2" y="297.6" width="3" height="2.4"/><rect x="955.3" y="265.0" width="3" height="30.0"/><rect x="976.5" y="232.5" width="3" height="22.5"/><rect x="979.1" y="255.0" width="3" height="35.0"/><rect x="981.7" y="290.0" width="3" height="1.7"/><rect x="984.4" y="291.7" width="3" height="2.0"/><rect x="987.0" y="293.8" width="3" height="4.3"/><rect x="989.7" y="298.1" width="3" height="7.9"/><rect x="997.6" y="280.0" width="3" height="18.5"/><rect x="1000.2" y="298.5" width="3" height="12.7"/><rect x="1002.9" y="311.2" width="3" height="4.4"/><rect x="1005.5" y="315.6" width="3" height="4.4"/><rect x="1008.1" y="320.0" width="3" height="5.0"/><rect x="1029.3" y="260.0" width="3" height="30.1"/><rect x="1031.9" y="290.1" width="3" height="17.6"/><rect x="1034.5" y="307.7" width="3" height="17.3"/><rect x="1068.9" y="232.5" width="3" height="3.8"/><rect x="1071.5" y="236.3" width="3" height="3.5"/><rect x="1074.1" y="239.8" width="3" height="4.1"/><rect x="1076.8" y="243.9" width="3" height="5.9"/><rect x="1079.4" y="249.8" width="3" height="5.9"/><rect x="1082.1" y="255.7" width="3" height="6.8"/><rect x="1090.0" y="242.5" width="3" height="13.1"/><rect x="1092.6" y="255.6" width="3" height="14.0"/><rect x="1095.3" y="269.6" width="3" height="17.9"/><rect x="1100.5" y="264.7" width="3" height="31.4"/><rect x="1103.2" y="296.1" width="3" height="2.0"/><rect x="1105.8" y="298.2" width="3" height="2.5"/><rect x="1124.3" y="290.7" width="3" height="1.2"/><rect x="1126.9" y="291.5" width="3" height="1.2"/><rect x="1129.6" y="292.5" width="3" height="4.0"/><rect x="1132.2" y="296.5" width="3" height="4.8"/><rect x="1134.9" y="301.4" width="3" height="2.6"/><rect x="1142.8" y="287.6" width="3" height="6.1"/><rect x="1145.4" y="293.7" width="3" height="5.6"/><rect x="1148.1" y="299.4" width="3" height="1.3"/><rect x="1150.7" y="300.7" width="3" height="31.1"/><rect x="1153.3" y="331.8" width="3" height="12.2"/><rect x="1156.0" y="344.0" width="3" height="15.6"/><rect x="1158.6" y="359.7" width="3" height="27.8"/><rect x="1171.8" y="315.5" width="3" height="46.4"/><rect x="1177.1" y="343.3" width="3" height="2.0"/><rect x="1179.7" y="345.3" width="3" height="22.5"/><rect x="1182.4" y="367.8" width="3" height="4.9"/><rect x="1185.0" y="372.7" width="3" height="41.0"/><rect x="1187.7" y="413.7" width="3" height="14.7"/><rect x="1195.6" y="394.0" width="3" height="11.5"/><rect x="1203.5" y="390.8" width="3" height="2.3"/><rect x="1206.1" y="393.1" width="3" height="1.7"/><rect x="1208.8" y="394.8" width="3" height="2.5"/><rect x="1214.1" y="369.5" width="3" height="19.5"/><rect x="1229.9" y="364.6" width="3" height="1.4"/><rect x="1232.5" y="366.0" width="3" height="2.1"/><rect x="1235.2" y="368.2" width="3" height="30.8"/><rect x="1248.4" y="381.0" width="3" height="18.0"/><rect x="1256.3" y="390.8" width="3" height="13.3"/><rect x="1258.9" y="404.1" width="3" height="22.7"/><rect x="1264.2" y="426.8" width="3" height="16.2"/><rect x="1274.8" y="384.2" width="3" height="6.6"/><rect x="1327.6" y="297.5" width="3" height="5.5"/><rect x="1330.2" y="303.0" width="3" height="12.0"/><rect x="1346.1" y="242.5" width="3" height="2.3"/><rect x="1348.7" y="244.8" width="3" height="5.2"/><rect x="1359.3" y="249.6" width="3" height="1.2"/><rect x="1361.9" y="250.3" width="3" height="1.2"/><rect x="1364.5" y="251.4" width="3" height="1.2"/><rect x="1377.7" y="192.5" width="3" height="30.0"/><rect x="1388.3" y="207.5" width="3" height="2.5"/><rect x="1390.9" y="210.0" width="3" height="11.4"/><rect x="1393.6" y="221.4" width="3" height="12.3"/><rect x="1396.2" y="233.7" width="3" height="11.3"/><rect x="1409.4" y="232.5" width="3" height="14.5"/><rect x="1412.1" y="247.0" width="3" height="13.0"/><rect x="1425.3" y="202.5" width="3" height="1.2"/><rect x="1427.9" y="203.6" width="3" height="6.9"/><rect x="1430.5" y="210.5" width="3" height="22.0"/><rect x="1441.1" y="232.5" width="3" height="4.0"/><rect x="1443.7" y="236.5" width="3" height="3.5"/><rect x="1449.0" y="240.0" width="3" height="1.7"/><rect x="1451.7" y="241.7" width="3" height="8.8"/><rect x="1454.3" y="250.5" width="3" height="8.8"/><rect x="1456.9" y="259.3" width="3" height="5.7"/><rect x="1475.4" y="217.5" width="3" height="4.8"/><rect x="1478.1" y="222.3" width="3" height="6.6"/><rect x="1486.0" y="207.5" width="3" height="2.1"/><rect x="1488.6" y="209.6" width="3" height="2.9"/><rect x="1512.4" y="135.0" width="3" height="10.0"/><rect x="1522.9" y="140.0" width="3" height="4.3"/><rect x="1525.6" y="144.3" width="3" height="3.3"/><rect x="1528.2" y="147.6" width="3" height="2.4"/><rect x="1536.1" y="132.5" width="3" height="6.6"/><rect x="1538.8" y="139.1" width="3" height="8.4"/><rect x="1549.3" y="137.5" width="3" height="4.5"/><rect x="1552.0" y="142.0" width="3" height="3.5"/><rect x="1554.6" y="145.5" width="3" height="7.6"/><rect x="1557.3" y="153.1" width="3" height="13.2"/><rect x="1559.9" y="166.3" width="3" height="18.7"/><rect x="1591.6" y="107.5" width="3" height="20.8"/><rect x="1594.2" y="128.3" width="3" height="19.7"/><rect x="1596.9" y="148.0" width="3" height="1.8"/><rect x="1599.5" y="149.7" width="3" height="1.8"/><rect x="1602.1" y="151.5" width="3" height="5.2"/><rect x="1604.8" y="156.7" width="3" height="9.7"/><rect x="1607.4" y="166.4" width="3" height="13.6"/><rect x="1615.3" y="155.0" width="3" height="14.2"/><rect x="1618.0" y="169.2" width="3" height="15.8"/><rect x="1620.6" y="185.0" width="3" height="6.4"/><rect x="1623.3" y="191.4" width="3" height="8.6"/><rect x="1631.2" y="187.5" width="3" height="13.4"/><rect x="1633.8" y="200.9" width="3" height="11.8"/><rect x="1636.5" y="212.7" width="3" height="1.3"/><rect x="1647.0" y="192.5" width="3" height="2.9"/><rect x="1649.7" y="195.4" width="3" height="3.0"/><rect x="1652.3" y="198.5" width="3" height="1.5"/><rect x="1668.1" y="159.8" width="3" height="1.2"/><rect x="1670.8" y="160.6" width="3" height="1.2"/><rect x="1673.4" y="161.4" width="3" height="1.2"/><rect x="1684.0" y="155.0" width="3" height="4.0"/><rect x="1686.6" y="159.0" width="3" height="3.5"/><rect x="1689.3" y="162.5" width="3" height="4.5"/><rect x="1691.9" y="167.0" width="3" height="7.0"/><rect x="1694.5" y="174.1" width="3" height="7.0"/><rect x="1697.2" y="181.1" width="3" height="11.5"/><rect x="1699.8" y="192.6" width="3" height="14.9"/><rect x="1728.9" y="100.0" width="3" height="4.8"/><rect x="1731.5" y="104.8" width="3" height="12.7"/><rect x="1736.8" y="115.0" width="3" height="3.3"/><rect x="1739.4" y="118.3" width="3" height="64.2"/><rect x="1742.1" y="182.5" width="3" height="12.5"/><rect x="1747.3" y="165.0" width="3" height="2.5"/><rect x="1750.0" y="167.5" width="3" height="8.5"/><rect x="1752.6" y="176.0" width="3" height="15.2"/><rect x="1755.3" y="191.2" width="3" height="15.2"/><rect x="1757.9" y="206.4" width="3" height="18.6"/><rect x="1765.8" y="200.0" width="3" height="5.3"/><rect x="1768.5" y="205.3" width="3" height="14.7"/><rect x="1781.7" y="172.5" width="3" height="1.4"/><rect x="1784.3" y="173.9" width="3" height="5.4"/><rect x="1786.9" y="179.3" width="3" height="14.1"/><rect x="1789.6" y="193.3" width="3" height="14.1"/><rect x="1792.2" y="207.4" width="3" height="7.6"/></g>
<polyline points="107.5,542.0 112.5,496.0 115.0,496.0 117.5,517.0 122.5,517.0 125.0,496.0 127.5,502.0 132.5,542.0 134.0,560.0 146.0,560.0 147.5,540.0 152.5,530.0 162.5,530.0 167.5,510.0 172.5,467.5 176.0,465.0 185.0,410.0 190.0,485.0 197.5,442.5 202.5,465.0 207.5,412.5 212.5,405.0 218.8,347.5 222.5,360.0 227.5,357.5 231.0,365.0 237.5,326.0 244.0,326.0 246.0,350.0 254.0,309.0 259.0,335.0 265.0,357.5 266.0,342.5 271.0,360.0 272.5,350.0 277.5,377.5 281.0,382.5 285.0,402.5 290.0,387.5 295.0,445.0 300.0,446.0 305.0,457.5 307.8,460.0 315.5,480.0 323.3,506.7 328.0,537.8 331.0,565.8 337.3,576.6 343.5,589.0 346.7,578.0 349.8,584.4 352.9,575.0 362.2,575.0 366.9,606.0 371.5,593.7 374.6,606.0 379.3,629.5 382.4,620.0 390.2,640.4 396.4,634.2 401.1,623.3 407.3,632.6 412.0,628.0 422.9,595.3 432.2,587.5 443.0,573.5 450.9,568.9 455.5,559.5 463.3,553.3 466.4,534.6 470.0,527.3 475.7,513.5 483.8,510.0 487.2,512.4 493.0,525.0 499.8,545.6 503.2,550.2 507.8,541.0 511.2,533.0 514.7,536.5 521.6,542.2 529.6,545.6 534.2,541.0 540.0,536.5 543.3,538.8 548.0,561.7 554.8,576.6 561.7,561.7 566.2,548.0 568.5,543.3 573.0,538.8 577.7,519.3 580.0,515.8 584.6,523.9 589.2,531.9 591.5,519.3 596.0,509.0 601.8,502.0 611.0,499.8 619.0,504.4 623.5,509.0 635.0,529.6 639.6,534.2 646.5,552.5 650.0,550.2 653.0,553.0 657.5,565.6 663.2,572.5 669.0,584.0 674.7,579.4 680.4,581.7 683.9,579.4 691.9,590.8 696.5,590.8 700.0,579.4 704.5,587.4 708.0,588.5 713.6,603.4 727.4,595.4 729.7,558.8 737.7,561.0 746.9,542.7 753.8,554.2 761.8,547.3 767.5,522.0 772.0,519.8 776.7,532.4 781.3,524.4 790.4,507.2 795.0,502.6 800.7,508.3 803.0,501.5 806.5,537.0 811.0,540.4 818.0,505.0 822.5,492.3 829.4,510.6 836.3,490.0 842.0,513.0 850.0,465.0 855.0,447.5 860.0,450.0 867.5,465.0 870.0,447.5 876.0,415.0 881.0,412.5 885.0,329.0 890.0,342.0 894.0,365.0 895.0,380.0 896.0,365.0 897.5,292.5 905.0,267.5 911.2,232.5 915.0,146.2 922.5,160.0 928.8,201.2 933.8,200.0 937.5,160.0 945.0,106.2 948.0,140.0 956.2,86.2 960.0,147.5 965.0,152.5 972.5,101.2 975.0,183.8 978.8,187.5 990.0,260.0 992.0,312.0 992.0,363.0 997.0,350.0 1004.0,361.0 1010.0,370.0 1015.0,410.0 1017.5,417.5 1025.0,437.5 1026.0,422.5 1032.5,467.5 1035.0,472.5 1042.5,525.0 1047.5,550.0 1052.5,560.0 1057.5,550.0 1065.0,525.0 1070.0,482.5 1075.0,487.5 1082.5,467.5 1090.0,465.0 1095.0,462.5 1097.5,480.0 1102.5,465.0 1106.0,495.0 1109.0,480.0 1111.0,497.5 1115.0,467.5 1121.0,457.5 1125.0,477.5 1132.5,480.0 1134.0,490.0 1137.5,512.5 1142.5,535.0 1147.5,570.0 1152.5,530.0 1157.5,575.0 1160.0,607.5 1162.5,597.5 1170.0,612.5 1172.5,600.0 1177.5,632.5 1182.5,615.0 1189.0,645.0 1194.0,657.5 1201.0,640.0 1211.0,665.0 1215.0,630.0 1225.0,620.0 1229.0,657.5 1235.0,590.0 1239.0,585.0 1242.5,535.0 1250.0,525.0 1255.0,522.5 1262.5,542.5 1267.5,527.5 1275.0,525.0 1285.0,527.5 1295.0,520.0 1300.0,500.0 1305.0,472.5 1309.0,485.0 1315.0,440.0 1319.0,495.0 1325.0,467.5 1331.0,465.0 1340.0,455.0 1345.0,425.0 1350.0,400.0 1354.0,407.5 1360.0,395.0 1365.0,400.0 1367.5,380.0 1375.0,370.0 1385.0,395.0 1390.0,417.5 1395.0,422.5 1402.5,455.0 1407.5,395.0 1415.0,407.5 1420.0,422.5 1425.0,435.0 1430.0,427.5 1437.5,435.0 1442.5,402.5 1449.0,430.0 1456.0,460.0 1465.0,427.5 1470.0,427.5 1476.0,407.5 1481.0,415.0 1485.0,462.5 1492.5,452.5 1500.0,442.5 1507.5,427.5 1515.0,410.0 1520.0,420.0 1527.5,420.0 1533.8,327.5 1546.0,370.0 1555.0,317.5 1567.5,347.5 1574.0,355.0 1577.5,350.0 1582.5,382.5 1590.0,337.5 1600.0,367.5 1605.0,367.5 1606.0,380.0 1609.4,467.5 1612.5,470.0 1618.0,480.0 1621.0,470.0 1625.0,471.0 1628.0,505.0 1633.0,523.8 1638.0,513.8 1645.0,488.8 1647.5,488.8 1654.4,501.0 1660.0,494.0 1665.0,485.0 1665.6,521.0 1672.0,525.6 1680.0,501.0 1685.0,491.0 1690.0,487.5 1693.0,472.0 1699.0,480.0 1708.0,498.0 1715.6,462.5 1721.0,455.0 1727.0,454.0 1732.0,424.0 1736.0,424.0 1744.0,456.0 1750.0,460.0 1756.0,499.0 1764.4,505.0 1766.7,499.5 1770.0,515.5 1775.8,526.0 1786.0,507.5 1788.4,518.0 1793.0,553.0 1798.8,578.5 1799.3,583.0" fill="none" stroke="#24acdf" stroke-width="3" stroke-linejoin="round"/>
<text x="26.5" y="63.8" class="ax" textLength="47" lengthAdjust="spacingAndGlyphs">0.0500%</text>
<text x="26.5" y="118.0" class="ax" textLength="47" lengthAdjust="spacingAndGlyphs">0.0450%</text>
<text x="26.5" y="172.3" class="ax" textLength="47" lengthAdjust="spacingAndGlyphs">0.0400%</text>
<text x="26.5" y="226.5" class="ax" textLength="47" lengthAdjust="spacingAndGlyphs">0.0350%</text>
<text x="26.5" y="280.8" class="ax" textLength="47" lengthAdjust="spacingAndGlyphs">0.0300%</text>
<text x="26.5" y="335.0" class="ax" textLength="47" lengthAdjust="spacingAndGlyphs">0.0250%</text>
<text x="26.5" y="389.3" class="ax" textLength="47" lengthAdjust="spacingAndGlyphs">0.0200%</text>
<text x="26.5" y="443.5" class="ax" textLength="47" lengthAdjust="spacingAndGlyphs">0.0150%</text>
<text x="26.5" y="497.8" class="ax" textLength="47" lengthAdjust="spacingAndGlyphs">0.0100%</text>
<text x="18.5" y="660.8" class="ax" textLength="55" lengthAdjust="spacingAndGlyphs">−0.0050%</text>
<text x="18.5" y="714.8" class="ax" textLength="55" lengthAdjust="spacingAndGlyphs">−0.0100%</text>
<text x="18.5" y="769.3" class="ax" textLength="55" lengthAdjust="spacingAndGlyphs">−0.0150%</text>
<text x="2224.5" y="20.0" class="ax" textLength="60.5" lengthAdjust="spacingAndGlyphs">136,000.00</text>
<text x="2224.5" y="48.7" class="ax" textLength="60.5" lengthAdjust="spacingAndGlyphs">132,000.00</text>
<text x="2224.5" y="77.3" class="ax" textLength="60.5" lengthAdjust="spacingAndGlyphs">128,000.00</text>
<text x="2224.5" y="106.0" class="ax" textLength="60.5" lengthAdjust="spacingAndGlyphs">124,000.00</text>
<text x="2224.5" y="134.7" class="ax" textLength="60.5" lengthAdjust="spacingAndGlyphs">120,000.00</text>
<text x="2224.5" y="163.3" class="ax" textLength="60.5" lengthAdjust="spacingAndGlyphs">116,000.00</text>
<text x="2224.5" y="192.0" class="ax" textLength="60.5" lengthAdjust="spacingAndGlyphs">112,000.00</text>
<text x="2224.5" y="220.7" class="ax" textLength="60.5" lengthAdjust="spacingAndGlyphs">108,000.00</text>
<text x="2224.5" y="249.3" class="ax" textLength="60.5" lengthAdjust="spacingAndGlyphs">104,000.00</text>
<text x="2224.5" y="278.0" class="ax" textLength="60.5" lengthAdjust="spacingAndGlyphs">100,000.00</text>
<text x="2224.5" y="306.7" class="ax" textLength="55" lengthAdjust="spacingAndGlyphs">96,000.00</text>
<text x="2224.5" y="335.3" class="ax" textLength="55" lengthAdjust="spacingAndGlyphs">92,000.00</text>
<text x="2224.5" y="364.0" class="ax" textLength="55" lengthAdjust="spacingAndGlyphs">88,000.00</text>
<text x="2224.5" y="392.6" class="ax" textLength="55" lengthAdjust="spacingAndGlyphs">84,000.00</text>
<text x="2224.5" y="421.3" class="ax" textLength="55" lengthAdjust="spacingAndGlyphs">80,000.00</text>
<text x="2224.5" y="450.0" class="ax" textLength="55" lengthAdjust="spacingAndGlyphs">76,000.00</text>
<text x="2224.5" y="478.6" class="ax" textLength="55" lengthAdjust="spacingAndGlyphs">72,000.00</text>
<text x="2224.5" y="507.3" class="ax" textLength="55" lengthAdjust="spacingAndGlyphs">68,000.00</text>
<text x="2224.5" y="536.0" class="ax" textLength="55" lengthAdjust="spacingAndGlyphs">64,000.00</text>
<text x="2224.5" y="564.6" class="ax" textLength="55" lengthAdjust="spacingAndGlyphs">60,000.00</text>
<text x="2224.5" y="593.3" class="ax" textLength="55" lengthAdjust="spacingAndGlyphs">56,000.00</text>
<text x="2224.5" y="622.0" class="ax" textLength="55" lengthAdjust="spacingAndGlyphs">52,000.00</text>
<text x="2224.5" y="650.6" class="ax" textLength="55" lengthAdjust="spacingAndGlyphs">48,000.00</text>
<text x="2224.5" y="679.3" class="ax" textLength="55" lengthAdjust="spacingAndGlyphs">44,000.00</text>
<text x="2224.5" y="708.0" class="ax" textLength="55" lengthAdjust="spacingAndGlyphs">40,000.00</text>
<text x="2224.5" y="736.6" class="ax" textLength="55" lengthAdjust="spacingAndGlyphs">36,000.00</text>
<text x="2224.5" y="765.3" class="ax" textLength="55" lengthAdjust="spacingAndGlyphs">32,000.00</text>
<text x="2223.8" y="814.2" class="ax" textLength="40" lengthAdjust="spacingAndGlyphs">2,000%</text>
<text x="2223.8" y="848.4" class="ax" textLength="40" lengthAdjust="spacingAndGlyphs">1,750%</text>
<text x="2223.8" y="882.6" class="ax" textLength="40" lengthAdjust="spacingAndGlyphs">1,500%</text>
<text x="2223.8" y="916.8" class="ax" textLength="40" lengthAdjust="spacingAndGlyphs">1,250%</text>
<text x="2223.8" y="951.0" class="ax" textLength="40" lengthAdjust="spacingAndGlyphs">1,000%</text>
<text x="2223.8" y="985.3" class="ax" textLength="29.5" lengthAdjust="spacingAndGlyphs">750%</text>
<text x="2223.8" y="1019.3" class="ax" textLength="29.5" lengthAdjust="spacingAndGlyphs">500%</text>
<text x="2223.8" y="1053.6" class="ax" textLength="29.5" lengthAdjust="spacingAndGlyphs">250%</text>
<text x="2223.8" y="1122.0" class="ax" textLength="36.5" lengthAdjust="spacingAndGlyphs">−250%</text>
<text x="2223.8" y="1156.2" class="ax" textLength="36.5" lengthAdjust="spacingAndGlyphs">−500%</text>
<rect x="38.0" y="1170" width="15" height="16" rx="3" fill="#f7f7f7"/>
<text x="45.5" y="1181.8" class="ax" text-anchor="middle" style="fill:#9a9a9a;stroke:#9a9a9a">Z</text>
<text x="150.5" y="1181.8" class="ax" text-anchor="middle">Feb</text>
<text x="225" y="1181.8" class="ax" text-anchor="middle">Mar</text>
<text x="305" y="1181.8" class="ax" text-anchor="middle">Apr</text>
<text x="382.5" y="1181.8" class="ax" text-anchor="middle">May</text>
<text x="462.5" y="1181.8" class="ax" text-anchor="middle">Jun</text>
<text x="539.5" y="1181.8" class="ax" text-anchor="middle">Jul</text>
<text x="619" y="1181.8" class="ax" text-anchor="middle">Aug</text>
<text x="699" y="1181.8" class="ax" text-anchor="middle">Sep</text>
<text x="776" y="1181.8" class="ax" text-anchor="middle">Oct</text>
<text x="856" y="1181.8" class="ax" text-anchor="middle">Nov</text>
<text x="933" y="1181.8" class="ax" text-anchor="middle">Dec</text>
<text x="1013" y="1181.8" class="axb" text-anchor="middle">2025</text>
<text x="1093" y="1181.8" class="ax" text-anchor="middle">Feb</text>
<text x="1167" y="1181.8" class="ax" text-anchor="middle">2</text>
<text x="1245" y="1181.8" class="ax" text-anchor="middle">Apr</text>
<text x="1322" y="1181.8" class="ax" text-anchor="middle">May</text>
<text x="1402" y="1181.8" class="ax" text-anchor="middle">Jun</text>
<text x="1479" y="1181.8" class="ax" text-anchor="middle">Jul</text>
<text x="1559" y="1181.8" class="ax" text-anchor="middle">Aug</text>
<text x="1638" y="1181.8" class="ax" text-anchor="middle">Sep</text>
<text x="1716" y="1181.8" class="ax" text-anchor="middle">Oct</text>
<text x="1796" y="1181.8" class="ax" text-anchor="middle">Nov</text>
<text x="1873" y="1181.8" class="ax" text-anchor="middle">Dec</text>
<text x="1953" y="1181.8" class="axb" text-anchor="middle">2026</text>
<text x="2032" y="1181.8" class="ax" text-anchor="middle">Feb</text>
<text x="2107" y="1181.8" class="ax" text-anchor="middle">2</text>
<text x="2185" y="1181.8" class="ax" text-anchor="middle">Apr</text>
<rect x="2247.5" y="1170" width="15" height="16" rx="3" fill="#f7f7f7"/>
<text x="2255" y="1181.8" class="ax" text-anchor="middle" style="fill:#9a9a9a;stroke:#9a9a9a">A</text>
<text x="89.5" y="27.6" class="lg" textLength="157.5" lengthAdjust="spacingAndGlyphs">BITCOIN / USD, 1D, COINBASE</text>
<text x="254.8" y="27.6" class="lg">O</text>
<text x="263.8" y="27.6" class="lg" textLength="55.8" lengthAdjust="spacingAndGlyphs" style="fill:#4db8a0;stroke:#4db8a0">110,052.25</text>
<text x="326.6" y="27.6" class="lg">H</text>
<text x="334.5" y="27.6" class="lg" textLength="53.5" lengthAdjust="spacingAndGlyphs" style="fill:#4db8a0;stroke:#4db8a0">111,221.99</text>
<text x="395.5" y="27.6" class="lg">L</text>
<text x="401.5" y="27.6" class="lg" textLength="58.5" lengthAdjust="spacingAndGlyphs" style="fill:#4db8a0;stroke:#4db8a0">108,800.00</text>
<text x="467.5" y="27.6" class="lg">C</text>
<text x="475.5" y="27.6" class="lg" textLength="54.5" lengthAdjust="spacingAndGlyphs" style="fill:#4db8a0;stroke:#4db8a0">110,536.01</text>
<text x="537.8" y="27.6" class="lg" textLength="94.5" lengthAdjust="spacingAndGlyphs" style="fill:#4db8a0;stroke:#4db8a0">+483.76 (+0.44%)</text>
<text x="89.5" y="43.8" class="lg" textLength="241" lengthAdjust="spacingAndGlyphs">(Capriole.com) Institutional Buying (MCap) (0)</text>
<text x="337.8" y="43.8" class="lg" textLength="46.5" lengthAdjust="spacingAndGlyphs" style="fill:#ecc95e;stroke:#ecc95e">0.0005%</text>
<g stroke="#6e6e6e" stroke-width="1.1" fill="none"><circle cx="395.6" cy="40" r="2.7"/><line x1="392.6" y1="43.2" x2="398.6" y2="36.8"/></g>
<text x="406.3" y="43.8" class="lg" textLength="45" lengthAdjust="spacingAndGlyphs" style="fill:#6fd46f;stroke:#6fd46f">0.0016%</text>
<text x="458.8" y="43.8" class="lg" textLength="45" lengthAdjust="spacingAndGlyphs" style="fill:#6cc8ec;stroke:#6cc8ec">0.0021%</text>
<text x="510.2" y="43.8" class="lg" textLength="47" lengthAdjust="spacingAndGlyphs" style="fill:#e8a2aa;stroke:#e8a2aa">0.0023%</text>
<text x="89" y="797" class="lg" textLength="246" lengthAdjust="spacingAndGlyphs">(Capriole.com) Institutional Excess Demand (0)</text>
<text x="343.2" y="797" class="lg" textLength="26" lengthAdjust="spacingAndGlyphs" style="fill:#e2505c;stroke:#e2505c">−11%</text>
<rect x="21" y="542.5" width="175" height="14.5" fill="#ef6a75"/>
<text x="25.6" y="553.7" class="lg" textLength="48" lengthAdjust="spacingAndGlyphs" style="fill:#fbd0d0;stroke:#fbd0d0">0.0023%</text>
<text x="85.6" y="553.7" class="lg" textLength="105.5" lengthAdjust="spacingAndGlyphs" style="fill:#fbd0d0;stroke:#fbd0d0">Bitcoin Mined (ROC)</text>
<rect x="21" y="557" width="129" height="15.5" fill="#1db4ee"/>
<text x="25.6" y="569.2" class="lg" textLength="48" lengthAdjust="spacingAndGlyphs" style="fill:#0b4f93;stroke:#0b4f93">0.0021%</text>
<text x="86.4" y="569.2" class="lg" textLength="58.5" lengthAdjust="spacingAndGlyphs" style="fill:#0b4f93;stroke:#0b4f93">Total (ROC)</text>
<rect x="21" y="572.5" width="130" height="17" fill="#25e614"/>
<text x="25.6" y="585.4" class="lg" textLength="48" lengthAdjust="spacingAndGlyphs" style="fill:#0a5e12;stroke:#0a5e12">0.0016%</text>
<text x="86.4" y="585.4" class="lg" textLength="59" lengthAdjust="spacingAndGlyphs" style="fill:#0a5e12;stroke:#0a5e12">ETFs (ROC)</text>
<rect x="21" y="590" width="158" height="14.5" fill="#f4a51e"/>
<text x="25.6" y="601.5" class="lg" textLength="48" lengthAdjust="spacingAndGlyphs" style="fill:#5e3300;stroke:#5e3300">0.0005%</text>
<text x="87.3" y="601.5" class="lg" textLength="86.5" lengthAdjust="spacingAndGlyphs" style="fill:#5e3300;stroke:#5e3300">Treasuries (ROC)</text>
<rect x="2162" y="192" width="128" height="15" fill="#139c80"/>
<line x1="2215.5" y1="192" x2="2215.5" y2="207" stroke="#7fd8c0" stroke-width="1"/>
<text x="2166" y="203.8" class="ax" textLength="45" lengthAdjust="spacingAndGlyphs" style="fill:#c8f5e6;stroke:#c8f5e6">BTCUSD</text>
<text x="2224.5" y="203.8" class="ax" textLength="60.5" lengthAdjust="spacingAndGlyphs" style="fill:#c8f5e6;stroke:#c8f5e6">110,536.01</text>
<rect x="2134" y="1077" width="125" height="16" fill="#e3161c"/>
<line x1="2215.5" y1="1077" x2="2215.5" y2="1093" stroke="#f08080" stroke-width="1"/>
<text x="2138" y="1089.3" class="ax" textLength="72.5" lengthAdjust="spacingAndGlyphs" style="fill:#ffd8d8;stroke:#ffd8d8">Total (Excess)</text>
<text x="2223.5" y="1089.3" class="ax" textLength="30.5" lengthAdjust="spacingAndGlyphs" style="fill:#ffd8d8;stroke:#ffd8d8">&#8722;11%</text>
<g fill="#111">
<path d="M9.2,1200.8 H16.3 V1209.5 H12.5 V1204.4 H9.2 Z"/>
<circle cx="19.5" cy="1202.6" r="1.7"/>
<path d="M22.3,1200.8 H26.9 L24.5,1209.5 H20.0 Z"/>
</g>
<text x="31.2" y="1209.8" class="lg" textLength="68" lengthAdjust="spacingAndGlyphs" style="font-size:11.5px;fill:#3c3c3c;stroke:#3c3c3c">TradingView</text>
</svg>
</body></html>
